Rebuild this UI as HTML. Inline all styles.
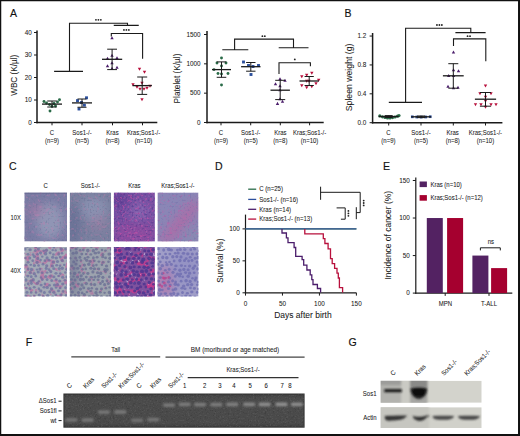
<!DOCTYPE html><html><head><meta charset="utf-8"><style>html,body{margin:0;padding:0;background:#fff;}svg{display:block;}</style></head><body>
<svg width="520" height="436" viewBox="0 0 520 436" font-family='"Liberation Sans", sans-serif'>
<rect x="0" y="0" width="520" height="436" fill="#fff"/>
<text transform="translate(10.0,17.4) scale(0.9,1)" font-size="11.7" fill="#111" stroke="#111" stroke-width="0.15">A</text>
<text transform="translate(344.6,17.2) scale(0.9,1)" font-size="11.7" fill="#111" stroke="#111" stroke-width="0.15">B</text>
<text transform="translate(8.9,170.3) scale(0.9,1)" font-size="11.7" fill="#111" stroke="#111" stroke-width="0.15">C</text>
<text transform="translate(215.0,170.4) scale(0.9,1)" font-size="11.7" fill="#111" stroke="#111" stroke-width="0.15">D</text>
<text transform="translate(383.0,170.4) scale(0.9,1)" font-size="11.7" fill="#111" stroke="#111" stroke-width="0.15">E</text>
<text transform="translate(25.8,346.4) scale(0.9,1)" font-size="11.7" fill="#111" stroke="#111" stroke-width="0.15">F</text>
<text transform="translate(348.5,346.3) scale(0.9,1)" font-size="11.7" fill="#111" stroke="#111" stroke-width="0.15">G</text>
<line x1="37" y1="30.5" x2="37" y2="123.25" stroke="#1a1a1a" stroke-width="1.5"/>
<line x1="36.25" y1="122.5" x2="157.3" y2="122.5" stroke="#1a1a1a" stroke-width="1.5"/>
<line x1="34" y1="122.5" x2="37" y2="122.5" stroke="#1a1a1a" stroke-width="1.0"/>
<text transform="translate(31.80,124.75) scale(1.0,1)" font-size="6.40" text-anchor="end" fill="#1a1a1a" stroke="#1a1a1a" stroke-width="0.06" >0</text>
<line x1="34" y1="100.0" x2="37" y2="100.0" stroke="#1a1a1a" stroke-width="1.0"/>
<text transform="translate(31.80,102.25) scale(1.0,1)" font-size="6.40" text-anchor="end" fill="#1a1a1a" stroke="#1a1a1a" stroke-width="0.06" >10</text>
<line x1="34" y1="77.5" x2="37" y2="77.5" stroke="#1a1a1a" stroke-width="1.0"/>
<text transform="translate(31.80,79.75) scale(1.0,1)" font-size="6.40" text-anchor="end" fill="#1a1a1a" stroke="#1a1a1a" stroke-width="0.06" >20</text>
<line x1="34" y1="55.0" x2="37" y2="55.0" stroke="#1a1a1a" stroke-width="1.0"/>
<text transform="translate(31.80,57.25) scale(1.0,1)" font-size="6.40" text-anchor="end" fill="#1a1a1a" stroke="#1a1a1a" stroke-width="0.06" >30</text>
<line x1="34" y1="32.5" x2="37" y2="32.5" stroke="#1a1a1a" stroke-width="1.0"/>
<text transform="translate(31.80,34.75) scale(1.0,1)" font-size="6.40" text-anchor="end" fill="#1a1a1a" stroke="#1a1a1a" stroke-width="0.06" >40</text>
<line x1="52" y1="122.5" x2="52" y2="125.3" stroke="#1a1a1a" stroke-width="1.0"/>
<line x1="82" y1="122.5" x2="82" y2="125.3" stroke="#1a1a1a" stroke-width="1.0"/>
<line x1="112.5" y1="122.5" x2="112.5" y2="125.3" stroke="#1a1a1a" stroke-width="1.0"/>
<line x1="142.5" y1="122.5" x2="142.5" y2="125.3" stroke="#1a1a1a" stroke-width="1.0"/>
<text transform="translate(52.00,134.70) scale(0.92,1)" font-size="6.52" text-anchor="middle" fill="#1a1a1a" stroke="#1a1a1a" stroke-width="0.06" >C</text>
<text transform="translate(52.00,142.80) scale(0.92,1)" font-size="6.52" text-anchor="middle" fill="#1a1a1a" stroke="#1a1a1a" stroke-width="0.06" >(n=9)</text>
<text transform="translate(82.00,134.70) scale(0.92,1)" font-size="6.52" text-anchor="middle" fill="#1a1a1a" stroke="#1a1a1a" stroke-width="0.06" >Sos1-/-</text>
<text transform="translate(82.00,142.80) scale(0.92,1)" font-size="6.52" text-anchor="middle" fill="#1a1a1a" stroke="#1a1a1a" stroke-width="0.06" >(n=5)</text>
<text transform="translate(112.50,134.70) scale(0.92,1)" font-size="6.52" text-anchor="middle" fill="#1a1a1a" stroke="#1a1a1a" stroke-width="0.06" >Kras</text>
<text transform="translate(112.50,142.80) scale(0.92,1)" font-size="6.52" text-anchor="middle" fill="#1a1a1a" stroke="#1a1a1a" stroke-width="0.06" >(n=8)</text>
<text transform="translate(143.50,134.70) scale(0.92,1)" font-size="6.52" text-anchor="middle" fill="#1a1a1a" stroke="#1a1a1a" stroke-width="0.06" >Kras;Sos1-/-</text>
<text transform="translate(143.50,142.80) scale(0.92,1)" font-size="6.52" text-anchor="middle" fill="#1a1a1a" stroke="#1a1a1a" stroke-width="0.06" >(n=10)</text>
<text transform="translate(17.31,75.30) rotate(-90) scale(0.92,1)" font-size="8.91" text-anchor="middle" fill="#1a1a1a" stroke="#1a1a1a" stroke-width="0.06">WBC (K/µl)</text>
<path d="M54.1 71.4H83M69.5 71.4V23.2H127.5V25.4M113.75 25.4H138.75" fill="none" stroke="#1a1a1a" stroke-width="1.1" />
<circle cx="95.95" cy="19.80" r="0.92" fill="#222"/>
<circle cx="98.40" cy="19.80" r="0.92" fill="#222"/>
<circle cx="100.85" cy="19.80" r="0.92" fill="#222"/>
<path d="M111.3 36.5V33.5H142.6V58.75" fill="none" stroke="#1a1a1a" stroke-width="1.1" />
<circle cx="123.95" cy="29.90" r="0.92" fill="#222"/>
<circle cx="126.40" cy="29.90" r="0.92" fill="#222"/>
<circle cx="128.85" cy="29.90" r="0.92" fill="#222"/>
<circle cx="44" cy="101.5" r="1.45" fill="#2a6b48"/>
<circle cx="46.5" cy="103" r="1.45" fill="#2a6b48"/>
<circle cx="49.5" cy="104.5" r="1.45" fill="#2a6b48"/>
<circle cx="52" cy="106.5" r="1.45" fill="#2a6b48"/>
<circle cx="55.5" cy="106" r="1.45" fill="#2a6b48"/>
<circle cx="57.5" cy="102" r="1.45" fill="#2a6b48"/>
<circle cx="59.5" cy="99.8" r="1.45" fill="#2a6b48"/>
<circle cx="50" cy="111" r="1.45" fill="#2a6b48"/>
<circle cx="54" cy="103.5" r="1.45" fill="#2a6b48"/>
<rect x="85.05" y="96.35" width="2.9" height="2.9" fill="#2c4f9c"/>
<rect x="76.05" y="99.14999999999999" width="2.9" height="2.9" fill="#2c4f9c"/>
<rect x="82.95" y="103.75" width="2.9" height="2.9" fill="#2c4f9c"/>
<rect x="77.55" y="107.55" width="2.9" height="2.9" fill="#2c4f9c"/>
<rect x="80.05" y="101.05" width="2.9" height="2.9" fill="#2c4f9c"/>
<path d="M112 36.215L113.7 39.275L110.3 39.275Z" fill="#4b1d6b"/>
<path d="M112 53.715L113.7 56.775L110.3 56.775Z" fill="#4b1d6b"/>
<path d="M107.5 56.715L109.2 59.775L105.8 59.775Z" fill="#4b1d6b"/>
<path d="M117 56.215L118.7 59.275L115.3 59.275Z" fill="#4b1d6b"/>
<path d="M112 61.215L113.7 64.275L110.3 64.275Z" fill="#4b1d6b"/>
<path d="M107.5 64.215L109.2 67.275L105.8 67.275Z" fill="#4b1d6b"/>
<path d="M112 66.715L113.7 69.775L110.3 69.775Z" fill="#4b1d6b"/>
<path d="M117 65.715L118.7 68.775L115.3 68.775Z" fill="#4b1d6b"/>
<path d="M139.5 70.785L141.2 67.725L137.8 67.725Z" fill="#b8103c"/>
<path d="M144.5 73.785L146.2 70.725L142.8 70.725Z" fill="#b8103c"/>
<path d="M142 84.785L143.7 81.725L140.3 81.725Z" fill="#b8103c"/>
<path d="M133 86.285L134.7 83.225L131.3 83.225Z" fill="#b8103c"/>
<path d="M137 88.785L138.7 85.725L135.3 85.725Z" fill="#b8103c"/>
<path d="M140 90.785L141.7 87.725L138.3 87.725Z" fill="#b8103c"/>
<path d="M144 90.785L145.7 87.725L142.3 87.725Z" fill="#b8103c"/>
<path d="M147 89.785L148.7 86.725L145.3 86.725Z" fill="#b8103c"/>
<path d="M150 87.785L151.7 84.725L148.3 84.725Z" fill="#b8103c"/>
<path d="M142 101.285L143.7 98.225L140.3 98.225Z" fill="#b8103c"/>
<line x1="42" y1="104.1" x2="62" y2="104.1" stroke="#1a1a1a" stroke-width="1.3"/>
<line x1="52" y1="101" x2="52" y2="107" stroke="#1a1a1a" stroke-width="1.0"/>
<line x1="47.25" y1="101" x2="56.75" y2="101" stroke="#1a1a1a" stroke-width="1.0"/>
<line x1="47.25" y1="107" x2="56.75" y2="107" stroke="#1a1a1a" stroke-width="1.0"/>
<line x1="72" y1="102.9" x2="92" y2="102.9" stroke="#1a1a1a" stroke-width="1.3"/>
<line x1="82" y1="99" x2="82" y2="107.25" stroke="#1a1a1a" stroke-width="1.0"/>
<line x1="77.5" y1="99" x2="86.5" y2="99" stroke="#1a1a1a" stroke-width="1.0"/>
<line x1="77.5" y1="107.25" x2="86.5" y2="107.25" stroke="#1a1a1a" stroke-width="1.0"/>
<line x1="102.0" y1="59.3" x2="122.19999999999999" y2="59.3" stroke="#1a1a1a" stroke-width="1.3"/>
<line x1="112.1" y1="49.2" x2="112.1" y2="69.6" stroke="#1a1a1a" stroke-width="1.0"/>
<line x1="107.19999999999999" y1="49.2" x2="117.0" y2="49.2" stroke="#1a1a1a" stroke-width="1.0"/>
<line x1="107.19999999999999" y1="69.6" x2="117.0" y2="69.6" stroke="#1a1a1a" stroke-width="1.0"/>
<line x1="132.5" y1="85.6" x2="151.89999999999998" y2="85.6" stroke="#1a1a1a" stroke-width="1.3"/>
<line x1="142.2" y1="77" x2="142.2" y2="94.4" stroke="#1a1a1a" stroke-width="1.0"/>
<line x1="137.2" y1="77" x2="147.2" y2="77" stroke="#1a1a1a" stroke-width="1.0"/>
<line x1="137.2" y1="94.4" x2="147.2" y2="94.4" stroke="#1a1a1a" stroke-width="1.0"/>
<line x1="207" y1="31" x2="207" y2="123.25" stroke="#1a1a1a" stroke-width="1.5"/>
<line x1="206.25" y1="122.5" x2="323.7" y2="122.5" stroke="#1a1a1a" stroke-width="1.5"/>
<line x1="204" y1="122.5" x2="207" y2="122.5" stroke="#1a1a1a" stroke-width="1.0"/>
<text transform="translate(200.60,124.75) scale(1.0,1)" font-size="6.40" text-anchor="end" fill="#1a1a1a" stroke="#1a1a1a" stroke-width="0.06" >0</text>
<line x1="204" y1="93.17" x2="207" y2="93.17" stroke="#1a1a1a" stroke-width="1.0"/>
<text transform="translate(200.60,95.42) scale(1.0,1)" font-size="6.40" text-anchor="end" fill="#1a1a1a" stroke="#1a1a1a" stroke-width="0.06" >500</text>
<line x1="204" y1="63.84" x2="207" y2="63.84" stroke="#1a1a1a" stroke-width="1.0"/>
<text transform="translate(200.60,66.09) scale(1.0,1)" font-size="6.40" text-anchor="end" fill="#1a1a1a" stroke="#1a1a1a" stroke-width="0.06" >1000</text>
<line x1="204" y1="34.510000000000005" x2="207" y2="34.510000000000005" stroke="#1a1a1a" stroke-width="1.0"/>
<text transform="translate(200.60,36.76) scale(1.0,1)" font-size="6.40" text-anchor="end" fill="#1a1a1a" stroke="#1a1a1a" stroke-width="0.06" >1500</text>
<line x1="221" y1="122.5" x2="221" y2="125.3" stroke="#1a1a1a" stroke-width="1.0"/>
<line x1="250.7" y1="122.5" x2="250.7" y2="125.3" stroke="#1a1a1a" stroke-width="1.0"/>
<line x1="280.3" y1="122.5" x2="280.3" y2="125.3" stroke="#1a1a1a" stroke-width="1.0"/>
<line x1="309.6" y1="122.5" x2="309.6" y2="125.3" stroke="#1a1a1a" stroke-width="1.0"/>
<text transform="translate(221.00,134.70) scale(0.92,1)" font-size="6.52" text-anchor="middle" fill="#1a1a1a" stroke="#1a1a1a" stroke-width="0.06" >C</text>
<text transform="translate(221.00,142.80) scale(0.92,1)" font-size="6.52" text-anchor="middle" fill="#1a1a1a" stroke="#1a1a1a" stroke-width="0.06" >(n=9)</text>
<text transform="translate(250.70,134.70) scale(0.92,1)" font-size="6.52" text-anchor="middle" fill="#1a1a1a" stroke="#1a1a1a" stroke-width="0.06" >Sos1-/-</text>
<text transform="translate(250.70,142.80) scale(0.92,1)" font-size="6.52" text-anchor="middle" fill="#1a1a1a" stroke="#1a1a1a" stroke-width="0.06" >(n=5)</text>
<text transform="translate(280.30,134.70) scale(0.92,1)" font-size="6.52" text-anchor="middle" fill="#1a1a1a" stroke="#1a1a1a" stroke-width="0.06" >Kras</text>
<text transform="translate(280.30,142.80) scale(0.92,1)" font-size="6.52" text-anchor="middle" fill="#1a1a1a" stroke="#1a1a1a" stroke-width="0.06" >(n=8)</text>
<text transform="translate(309.60,134.70) scale(0.92,1)" font-size="6.52" text-anchor="middle" fill="#1a1a1a" stroke="#1a1a1a" stroke-width="0.06" >Kras;Sos1-/-</text>
<text transform="translate(309.60,142.80) scale(0.92,1)" font-size="6.52" text-anchor="middle" fill="#1a1a1a" stroke="#1a1a1a" stroke-width="0.06" >(n=10)</text>
<text transform="translate(180.25,78.50) rotate(-90) scale(0.92,1)" font-size="9.02" text-anchor="middle" fill="#1a1a1a" stroke="#1a1a1a" stroke-width="0.06">Platelet (K/µl)</text>
<path d="M222.3 49.8H248.3M234.6 49.8V39.1H293.5V47.7M278.7 47.7H308.5" fill="none" stroke="#1a1a1a" stroke-width="1.1" />
<circle cx="262.38" cy="36.20" r="0.92" fill="#222"/>
<circle cx="264.83" cy="36.20" r="0.92" fill="#222"/>
<path d="M279 74V62.7H310.4V66.3" fill="none" stroke="#1a1a1a" stroke-width="1.1" />
<circle cx="294.80" cy="59.40" r="0.92" fill="#222"/>
<circle cx="221.5" cy="58" r="1.45" fill="#2a6b48"/>
<circle cx="217" cy="63" r="1.45" fill="#2a6b48"/>
<circle cx="226" cy="63" r="1.45" fill="#2a6b48"/>
<circle cx="221.5" cy="66" r="1.45" fill="#2a6b48"/>
<circle cx="214" cy="69.6" r="1.45" fill="#2a6b48"/>
<circle cx="218" cy="73.5" r="1.45" fill="#2a6b48"/>
<circle cx="221.5" cy="74" r="1.45" fill="#2a6b48"/>
<circle cx="228" cy="73.5" r="1.45" fill="#2a6b48"/>
<circle cx="221.5" cy="85" r="1.45" fill="#2a6b48"/>
<rect x="242.05" y="60.55" width="2.9" height="2.9" fill="#2c4f9c"/>
<rect x="247.05" y="64.05" width="2.9" height="2.9" fill="#2c4f9c"/>
<rect x="251.55" y="65.05" width="2.9" height="2.9" fill="#2c4f9c"/>
<rect x="257.05" y="64.05" width="2.9" height="2.9" fill="#2c4f9c"/>
<rect x="249.55" y="73.05" width="2.9" height="2.9" fill="#2c4f9c"/>
<path d="M280 77.215L281.7 80.275L278.3 80.275Z" fill="#4b1d6b"/>
<path d="M285 78.715L286.7 81.775L283.3 81.775Z" fill="#4b1d6b"/>
<path d="M275.5 82.215L277.2 85.275L273.8 85.275Z" fill="#4b1d6b"/>
<path d="M280 84.215L281.7 87.275L278.3 87.275Z" fill="#4b1d6b"/>
<path d="M280 88.215L281.7 91.275L278.3 91.275Z" fill="#4b1d6b"/>
<path d="M280 97.215L281.7 100.275L278.3 100.275Z" fill="#4b1d6b"/>
<path d="M277.5 101.815L279.2 104.875L275.8 104.875Z" fill="#4b1d6b"/>
<path d="M282.5 99.715L284.2 102.775L280.8 102.775Z" fill="#4b1d6b"/>
<path d="M301.8 78.285L303.5 75.225L300.1 75.225Z" fill="#b8103c"/>
<path d="M306.7 76.785L308.4 73.725L305.0 73.725Z" fill="#b8103c"/>
<path d="M311.8 74.785L313.5 71.725L310.1 71.725Z" fill="#b8103c"/>
<path d="M306.7 82.785L308.4 79.725L305.0 79.725Z" fill="#b8103c"/>
<path d="M318.7 81.785L320.4 78.725L317.0 78.725Z" fill="#b8103c"/>
<path d="M301.8 87.285L303.5 84.225L300.1 84.225Z" fill="#b8103c"/>
<path d="M306.7 89.285L308.4 86.225L305.0 86.225Z" fill="#b8103c"/>
<path d="M311.8 88.285L313.5 85.225L310.1 85.225Z" fill="#b8103c"/>
<path d="M316 85.285L317.7 82.225L314.3 82.225Z" fill="#b8103c"/>
<path d="M309 82.785L310.7 79.725L307.3 79.725Z" fill="#b8103c"/>
<line x1="212.0" y1="69.6" x2="231.0" y2="69.6" stroke="#1a1a1a" stroke-width="1.3"/>
<line x1="221.5" y1="61.9" x2="221.5" y2="77.3" stroke="#1a1a1a" stroke-width="1.0"/>
<line x1="216.7" y1="61.9" x2="226.3" y2="61.9" stroke="#1a1a1a" stroke-width="1.0"/>
<line x1="216.7" y1="77.3" x2="226.3" y2="77.3" stroke="#1a1a1a" stroke-width="1.0"/>
<line x1="241.10000000000002" y1="66.7" x2="260.5" y2="66.7" stroke="#1a1a1a" stroke-width="1.3"/>
<line x1="250.8" y1="62.5" x2="250.8" y2="71.2" stroke="#1a1a1a" stroke-width="1.0"/>
<line x1="246.10000000000002" y1="62.5" x2="255.5" y2="62.5" stroke="#1a1a1a" stroke-width="1.0"/>
<line x1="246.10000000000002" y1="71.2" x2="255.5" y2="71.2" stroke="#1a1a1a" stroke-width="1.0"/>
<line x1="270.5" y1="90.2" x2="289.9" y2="90.2" stroke="#1a1a1a" stroke-width="1.3"/>
<line x1="280.2" y1="80.3" x2="280.2" y2="99.6" stroke="#1a1a1a" stroke-width="1.0"/>
<line x1="275.2" y1="80.3" x2="285.2" y2="80.3" stroke="#1a1a1a" stroke-width="1.0"/>
<line x1="275.2" y1="99.6" x2="285.2" y2="99.6" stroke="#1a1a1a" stroke-width="1.0"/>
<line x1="299.5" y1="81" x2="318.9" y2="81" stroke="#1a1a1a" stroke-width="1.3"/>
<line x1="309.2" y1="76.5" x2="309.2" y2="85.5" stroke="#1a1a1a" stroke-width="1.0"/>
<line x1="304.59999999999997" y1="76.5" x2="313.8" y2="76.5" stroke="#1a1a1a" stroke-width="1.0"/>
<line x1="304.59999999999997" y1="85.5" x2="313.8" y2="85.5" stroke="#1a1a1a" stroke-width="1.0"/>
<line x1="372.6" y1="33" x2="372.6" y2="123.45" stroke="#1a1a1a" stroke-width="1.5"/>
<line x1="371.85" y1="122.7" x2="502.4" y2="122.7" stroke="#1a1a1a" stroke-width="1.5"/>
<line x1="369.6" y1="122.7" x2="372.6" y2="122.7" stroke="#1a1a1a" stroke-width="1.0"/>
<text transform="translate(366.30,124.95) scale(1.0,1)" font-size="6.40" text-anchor="end" fill="#1a1a1a" stroke="#1a1a1a" stroke-width="0.06" >0.0</text>
<line x1="369.6" y1="93.82" x2="372.6" y2="93.82" stroke="#1a1a1a" stroke-width="1.0"/>
<text transform="translate(366.30,96.07) scale(1.0,1)" font-size="6.40" text-anchor="end" fill="#1a1a1a" stroke="#1a1a1a" stroke-width="0.06" >0.4</text>
<line x1="369.6" y1="64.94" x2="372.6" y2="64.94" stroke="#1a1a1a" stroke-width="1.0"/>
<text transform="translate(366.30,67.19) scale(1.0,1)" font-size="6.40" text-anchor="end" fill="#1a1a1a" stroke="#1a1a1a" stroke-width="0.06" >0.8</text>
<line x1="369.6" y1="36.06" x2="372.6" y2="36.06" stroke="#1a1a1a" stroke-width="1.0"/>
<text transform="translate(366.30,38.31) scale(1.0,1)" font-size="6.40" text-anchor="end" fill="#1a1a1a" stroke="#1a1a1a" stroke-width="0.06" >1.2</text>
<line x1="388.7" y1="122.7" x2="388.7" y2="125.5" stroke="#1a1a1a" stroke-width="1.0"/>
<line x1="421" y1="122.7" x2="421" y2="125.5" stroke="#1a1a1a" stroke-width="1.0"/>
<line x1="453.3" y1="122.7" x2="453.3" y2="125.5" stroke="#1a1a1a" stroke-width="1.0"/>
<line x1="485.5" y1="122.7" x2="485.5" y2="125.5" stroke="#1a1a1a" stroke-width="1.0"/>
<text transform="translate(388.40,134.70) scale(0.92,1)" font-size="6.52" text-anchor="middle" fill="#1a1a1a" stroke="#1a1a1a" stroke-width="0.06" >C</text>
<text transform="translate(388.40,142.80) scale(0.92,1)" font-size="6.52" text-anchor="middle" fill="#1a1a1a" stroke="#1a1a1a" stroke-width="0.06" >(n=9)</text>
<text transform="translate(421.00,134.70) scale(0.92,1)" font-size="6.52" text-anchor="middle" fill="#1a1a1a" stroke="#1a1a1a" stroke-width="0.06" >Sos1-/-</text>
<text transform="translate(421.00,142.80) scale(0.92,1)" font-size="6.52" text-anchor="middle" fill="#1a1a1a" stroke="#1a1a1a" stroke-width="0.06" >(n=5)</text>
<text transform="translate(452.70,134.70) scale(0.92,1)" font-size="6.52" text-anchor="middle" fill="#1a1a1a" stroke="#1a1a1a" stroke-width="0.06" >Kras</text>
<text transform="translate(452.70,142.80) scale(0.92,1)" font-size="6.52" text-anchor="middle" fill="#1a1a1a" stroke="#1a1a1a" stroke-width="0.06" >(n=8)</text>
<text transform="translate(485.40,134.70) scale(0.92,1)" font-size="6.52" text-anchor="middle" fill="#1a1a1a" stroke="#1a1a1a" stroke-width="0.06" >Kras;Sos1-/-</text>
<text transform="translate(485.40,142.80) scale(0.92,1)" font-size="6.52" text-anchor="middle" fill="#1a1a1a" stroke="#1a1a1a" stroke-width="0.06" >(n=10)</text>
<text transform="translate(351.90,77.40) rotate(-90) scale(0.92,1)" font-size="9.46" text-anchor="middle" fill="#1a1a1a" stroke="#1a1a1a" stroke-width="0.06">Spleen weight (g)</text>
<path d="M388.8 102.35H422M405.6 102.35V28.3H470.8V32.6M455.4 32.6H485.6" fill="none" stroke="#1a1a1a" stroke-width="1.1" />
<circle cx="436.95" cy="25.00" r="0.92" fill="#222"/>
<circle cx="439.40" cy="25.00" r="0.92" fill="#222"/>
<circle cx="441.85" cy="25.00" r="0.92" fill="#222"/>
<path d="M453.5 46V38.9H485.8V61.3" fill="none" stroke="#1a1a1a" stroke-width="1.1" />
<circle cx="467.57" cy="36.20" r="0.92" fill="#222"/>
<circle cx="470.03" cy="36.20" r="0.92" fill="#222"/>
<circle cx="379.8" cy="115.9" r="1.6" fill="#2a6b48"/>
<circle cx="382.5" cy="116.8" r="1.6" fill="#2a6b48"/>
<circle cx="385" cy="117.4" r="1.6" fill="#2a6b48"/>
<circle cx="387.5" cy="117.9" r="1.6" fill="#2a6b48"/>
<circle cx="390" cy="117.9" r="1.6" fill="#2a6b48"/>
<circle cx="392.5" cy="117.6" r="1.6" fill="#2a6b48"/>
<circle cx="395" cy="117" r="1.6" fill="#2a6b48"/>
<circle cx="397.5" cy="116.2" r="1.6" fill="#2a6b48"/>
<circle cx="399" cy="115.6" r="1.6" fill="#2a6b48"/>
<rect x="410.95" y="115.45" width="2.7" height="2.7" fill="#2c4f9c"/>
<rect x="415.45" y="115.65" width="2.7" height="2.7" fill="#2c4f9c"/>
<rect x="419.84999999999997" y="115.75" width="2.7" height="2.7" fill="#2c4f9c"/>
<rect x="424.45" y="115.65" width="2.7" height="2.7" fill="#2c4f9c"/>
<rect x="428.84999999999997" y="115.35000000000001" width="2.7" height="2.7" fill="#2c4f9c"/>
<path d="M453.5 50.515L455.2 53.574999999999996L451.8 53.574999999999996Z" fill="#4b1d6b"/>
<path d="M453.5 68.215L455.2 71.275L451.8 71.275Z" fill="#4b1d6b"/>
<path d="M458.5 69.215L460.2 72.275L456.8 72.275Z" fill="#4b1d6b"/>
<path d="M448.7 73.915L450.4 76.97500000000001L447.0 76.97500000000001Z" fill="#4b1d6b"/>
<path d="M453.5 73.915L455.2 76.97500000000001L451.8 76.97500000000001Z" fill="#4b1d6b"/>
<path d="M448 84.715L449.7 87.775L446.3 87.775Z" fill="#4b1d6b"/>
<path d="M453.5 86.215L455.2 89.275L451.8 89.275Z" fill="#4b1d6b"/>
<path d="M458 85.715L459.7 88.775L456.3 88.775Z" fill="#4b1d6b"/>
<path d="M485.5 87.485L487.2 84.425L483.8 84.425Z" fill="#b8103c"/>
<path d="M480 95.285L481.7 92.225L478.3 92.225Z" fill="#b8103c"/>
<path d="M491 95.285L492.7 92.225L489.3 92.225Z" fill="#b8103c"/>
<path d="M485.5 98.785L487.2 95.725L483.8 95.725Z" fill="#b8103c"/>
<path d="M475.5 106.285L477.2 103.225L473.8 103.225Z" fill="#b8103c"/>
<path d="M481 106.285L482.7 103.225L479.3 103.225Z" fill="#b8103c"/>
<path d="M485.5 108.785L487.2 105.725L483.8 105.725Z" fill="#b8103c"/>
<path d="M491 106.285L492.7 103.225L489.3 103.225Z" fill="#b8103c"/>
<path d="M496 106.285L497.7 103.225L494.3 103.225Z" fill="#b8103c"/>
<path d="M485.5 102.785L487.2 99.725L483.8 99.725Z" fill="#b8103c"/>
<line x1="378.7" y1="116.5" x2="398.7" y2="116.5" stroke="#1a1a1a" stroke-width="1.3"/>
<line x1="388.7" y1="115.6" x2="388.7" y2="117.5" stroke="#1a1a1a" stroke-width="1.0"/>
<line x1="384.7" y1="115.6" x2="392.7" y2="115.6" stroke="#1a1a1a" stroke-width="1.0"/>
<line x1="384.7" y1="117.5" x2="392.7" y2="117.5" stroke="#1a1a1a" stroke-width="1.0"/>
<line x1="411.2" y1="116.8" x2="431.2" y2="116.8" stroke="#1a1a1a" stroke-width="1.3"/>
<line x1="421.2" y1="116" x2="421.2" y2="117.6" stroke="#1a1a1a" stroke-width="1.0"/>
<line x1="417.2" y1="116" x2="425.2" y2="116" stroke="#1a1a1a" stroke-width="1.0"/>
<line x1="417.2" y1="117.6" x2="425.2" y2="117.6" stroke="#1a1a1a" stroke-width="1.0"/>
<line x1="442.90000000000003" y1="75.8" x2="463.7" y2="75.8" stroke="#1a1a1a" stroke-width="1.3"/>
<line x1="453.3" y1="63.7" x2="453.3" y2="88.2" stroke="#1a1a1a" stroke-width="1.0"/>
<line x1="448.3" y1="63.7" x2="458.3" y2="63.7" stroke="#1a1a1a" stroke-width="1.0"/>
<line x1="448.3" y1="88.2" x2="458.3" y2="88.2" stroke="#1a1a1a" stroke-width="1.0"/>
<line x1="474.9" y1="99.2" x2="496.1" y2="99.2" stroke="#1a1a1a" stroke-width="1.3"/>
<line x1="485.5" y1="92.5" x2="485.5" y2="106.2" stroke="#1a1a1a" stroke-width="1.0"/>
<line x1="479.9" y1="92.5" x2="491.1" y2="92.5" stroke="#1a1a1a" stroke-width="1.0"/>
<line x1="479.9" y1="106.2" x2="491.1" y2="106.2" stroke="#1a1a1a" stroke-width="1.0"/>
<text transform="translate(45.65,187.50) scale(0.92,1)" font-size="6.52" text-anchor="middle" fill="#1a1a1a" stroke="#1a1a1a" stroke-width="0.06" >C</text>
<text transform="translate(90.40,187.50) scale(0.92,1)" font-size="6.52" text-anchor="middle" fill="#1a1a1a" stroke="#1a1a1a" stroke-width="0.06" >Sos1-/-</text>
<text transform="translate(134.35,187.50) scale(0.92,1)" font-size="6.52" text-anchor="middle" fill="#1a1a1a" stroke="#1a1a1a" stroke-width="0.06" >Kras</text>
<text transform="translate(177.95,187.50) scale(0.92,1)" font-size="6.52" text-anchor="middle" fill="#1a1a1a" stroke="#1a1a1a" stroke-width="0.06" >Kras;Sos1-/-</text>
<text transform="translate(15.70,219.60) scale(0.92,1)" font-size="6.30" text-anchor="middle" fill="#1a1a1a" stroke="#1a1a1a" stroke-width="0.06" >10X</text>
<text transform="translate(15.70,273.10) scale(0.92,1)" font-size="6.30" text-anchor="middle" fill="#1a1a1a" stroke="#1a1a1a" stroke-width="0.06" >40X</text>
<defs><filter id="hb" x="-100%" y="-100%" width="300%" height="300%"><feGaussianBlur stdDeviation="4"/></filter><filter id="nb" x="-50%" y="-50%" width="200%" height="200%"><feGaussianBlur stdDeviation="0.45"/></filter></defs>
<clipPath id="h00"><rect x="24.3" y="192.4" width="42.7" height="49.2"/></clipPath>
<g clip-path="url(#h00)">
<rect x="24.3" y="192.4" width="42.7" height="49.2" fill="#7a7ca4"/>
<ellipse cx="49.650000000000006" cy="221.0" rx="14" ry="18" fill="#9aa0bc" opacity="0.7" transform="rotate(0 49.650000000000006 221.0)" filter="url(#hb)"/>
<ellipse cx="36.3" cy="210.4" rx="8" ry="6" fill="#b07aa8" opacity="0.6" transform="rotate(0 36.3 210.4)" filter="url(#hb)"/>
<filter id="sp1" filterUnits="userSpaceOnUse" x="24.3" y="192.4" width="42.7" height="49.2"><feTurbulence type="fractalNoise" baseFrequency="0.35" numOctaves="2" seed="3" result="t"/><feColorMatrix in="t" type="matrix" values="0 0 0 0 0 0 0 0 0 0 0 0 0 0 0 5 0 0 0 -2.800" result="a"/><feFlood flood-color="#c27cb0" flood-opacity="0.4"/><feComposite in2="a" operator="in"/></filter>
<rect x="24.3" y="192.4" width="42.7" height="49.2" filter="url(#sp1)"/>
<filter id="sp2" filterUnits="userSpaceOnUse" x="24.3" y="192.4" width="42.7" height="49.2"><feTurbulence type="fractalNoise" baseFrequency="0.5" numOctaves="2" seed="9" result="t"/><feColorMatrix in="t" type="matrix" values="0 0 0 0 0 0 0 0 0 0 0 0 0 0 0 5 0 0 0 -2.800" result="a"/><feFlood flood-color="#5e6690" flood-opacity="0.35"/><feComposite in2="a" operator="in"/></filter>
<rect x="24.3" y="192.4" width="42.7" height="49.2" filter="url(#sp2)"/>
<rect x="24.3" y="192.4" width="42.7" height="1.2" fill="#5a5e88" opacity="0.7"/>
</g>
<clipPath id="h01"><rect x="69.7" y="192.4" width="41.4" height="49.2"/></clipPath>
<g clip-path="url(#h01)">
<rect x="69.7" y="192.4" width="41.4" height="49.2" fill="#7a80a0"/>
<ellipse cx="93.4" cy="209.0" rx="14" ry="12" fill="#9098b8" opacity="0.7" transform="rotate(0 93.4 209.0)" filter="url(#hb)"/>
<ellipse cx="73.7" cy="225.0" rx="6" ry="22" fill="#626a92" opacity="0.7" transform="rotate(0 73.7 225.0)" filter="url(#hb)"/>
<ellipse cx="98.4" cy="223.0" rx="8" ry="8" fill="#a882a8" opacity="0.45" transform="rotate(0 98.4 223.0)" filter="url(#hb)"/>
<filter id="sp3" filterUnits="userSpaceOnUse" x="69.7" y="192.4" width="41.4" height="49.2"><feTurbulence type="fractalNoise" baseFrequency="0.35" numOctaves="2" seed="5" result="t"/><feColorMatrix in="t" type="matrix" values="0 0 0 0 0 0 0 0 0 0 0 0 0 0 0 5 0 0 0 -2.800" result="a"/><feFlood flood-color="#b87aa8" flood-opacity="0.4"/><feComposite in2="a" operator="in"/></filter>
<rect x="69.7" y="192.4" width="41.4" height="49.2" filter="url(#sp3)"/>
<filter id="sp4" filterUnits="userSpaceOnUse" x="69.7" y="192.4" width="41.4" height="49.2"><feTurbulence type="fractalNoise" baseFrequency="0.5" numOctaves="2" seed="11" result="t"/><feColorMatrix in="t" type="matrix" values="0 0 0 0 0 0 0 0 0 0 0 0 0 0 0 5 0 0 0 -2.800" result="a"/><feFlood flood-color="#5a6488" flood-opacity="0.35"/><feComposite in2="a" operator="in"/></filter>
<rect x="69.7" y="192.4" width="41.4" height="49.2" filter="url(#sp4)"/>
</g>
<clipPath id="h02"><rect x="113.8" y="192.4" width="41.1" height="49.2"/></clipPath>
<g clip-path="url(#h02)">
<rect x="113.8" y="192.4" width="41.1" height="49.2" fill="#7650a2"/>
<ellipse cx="134.35" cy="233.6" rx="22" ry="10" fill="#9a4a9e" opacity="0.6" transform="rotate(0 134.35 233.6)" filter="url(#hb)"/>
<ellipse cx="138.35" cy="211.0" rx="10" ry="10" fill="#8a6ab4" opacity="0.6" transform="rotate(0 138.35 211.0)" filter="url(#hb)"/>
<ellipse cx="119.8" cy="200.4" rx="8" ry="8" fill="#5a3a92" opacity="0.7" transform="rotate(0 119.8 200.4)" filter="url(#hb)"/>
<filter id="sp5" filterUnits="userSpaceOnUse" x="113.8" y="192.4" width="41.1" height="49.2"><feTurbulence type="fractalNoise" baseFrequency="0.4" numOctaves="2" seed="7" result="t"/><feColorMatrix in="t" type="matrix" values="0 0 0 0 0 0 0 0 0 0 0 0 0 0 0 5 0 0 0 -2.750" result="a"/><feFlood flood-color="#d050a8" flood-opacity="0.55"/><feComposite in2="a" operator="in"/></filter>
<rect x="113.8" y="192.4" width="41.1" height="49.2" filter="url(#sp5)"/>
<filter id="sp6" filterUnits="userSpaceOnUse" x="113.8" y="192.4" width="41.1" height="49.2"><feTurbulence type="fractalNoise" baseFrequency="0.5" numOctaves="2" seed="13" result="t"/><feColorMatrix in="t" type="matrix" values="0 0 0 0 0 0 0 0 0 0 0 0 0 0 0 5 0 0 0 -2.800" result="a"/><feFlood flood-color="#4a3088" flood-opacity="0.5"/><feComposite in2="a" operator="in"/></filter>
<rect x="113.8" y="192.4" width="41.1" height="49.2" filter="url(#sp6)"/>
<filter id="sp7" filterUnits="userSpaceOnUse" x="113.8" y="192.4" width="41.1" height="49.2"><feTurbulence type="fractalNoise" baseFrequency="0.5" numOctaves="2" seed="17" result="t"/><feColorMatrix in="t" type="matrix" values="0 0 0 0 0 0 0 0 0 0 0 0 0 0 0 6 0 0 0 -3.600" result="a"/><feFlood flood-color="#a89ad0" flood-opacity="0.2"/><feComposite in2="a" operator="in"/></filter>
<rect x="113.8" y="192.4" width="41.1" height="49.2" filter="url(#sp7)"/>
</g>
<clipPath id="h03"><rect x="157.4" y="192.4" width="41.1" height="49.2"/></clipPath>
<g clip-path="url(#h03)">
<rect x="157.4" y="192.4" width="41.1" height="49.2" fill="#8a86b6"/>
<ellipse cx="179.95" cy="223.0" rx="30" ry="7" fill="#b06aa6" opacity="0.75" transform="rotate(-50 179.95 223.0)" filter="url(#hb)"/>
<ellipse cx="192.5" cy="235.6" rx="10" ry="8" fill="#8a8cb0" opacity="0.6" transform="rotate(0 192.5 235.6)" filter="url(#hb)"/>
<filter id="sp8" filterUnits="userSpaceOnUse" x="157.4" y="192.4" width="41.1" height="49.2"><feTurbulence type="fractalNoise" baseFrequency="0.4" numOctaves="2" seed="19" result="t"/><feColorMatrix in="t" type="matrix" values="0 0 0 0 0 0 0 0 0 0 0 0 0 0 0 5 0 0 0 -2.800" result="a"/><feFlood flood-color="#c85aa8" flood-opacity="0.4"/><feComposite in2="a" operator="in"/></filter>
<rect x="157.4" y="192.4" width="41.1" height="49.2" filter="url(#sp8)"/>
<filter id="sp9" filterUnits="userSpaceOnUse" x="157.4" y="192.4" width="41.1" height="49.2"><feTurbulence type="fractalNoise" baseFrequency="0.5" numOctaves="2" seed="23" result="t"/><feColorMatrix in="t" type="matrix" values="0 0 0 0 0 0 0 0 0 0 0 0 0 0 0 5 0 0 0 -2.800" result="a"/><feFlood flood-color="#6a66a4" flood-opacity="0.35"/><feComposite in2="a" operator="in"/></filter>
<rect x="157.4" y="192.4" width="41.1" height="49.2" filter="url(#sp9)"/>
</g>
<clipPath id="h10"><rect x="24.3" y="246.9" width="42.7" height="49.7"/></clipPath>
<g clip-path="url(#h10)">
<rect x="24.3" y="246.9" width="42.7" height="49.7" fill="#a4abb6"/>
<filter id="sp10" filterUnits="userSpaceOnUse" x="24.3" y="246.9" width="42.7" height="49.7"><feTurbulence type="fractalNoise" baseFrequency="0.2" numOctaves="2" seed="29" result="t"/><feColorMatrix in="t" type="matrix" values="0 0 0 0 0 0 0 0 0 0 0 0 0 0 0 7 0 0 0 -3.500" result="a"/><feFlood flood-color="#c0609c" flood-opacity="0.6"/><feComposite in2="a" operator="in"/></filter>
<rect x="24.3" y="246.9" width="42.7" height="49.7" filter="url(#sp10)"/>
<g filter="url(#nb)">
<ellipse cx="22.2" cy="245.0" rx="1.3" ry="1.4" fill="#6a6c9c" opacity="0.7"/>
<ellipse cx="27.5" cy="246.3" rx="1.6" ry="1.4" fill="#6a6c9c" opacity="0.7"/>
<ellipse cx="31.3" cy="245.0" rx="1.3" ry="1.1" fill="#6a6c9c" opacity="0.7"/>
<ellipse cx="35.9" cy="246.5" rx="1.7" ry="1.7" fill="#6a6c9c" opacity="0.7"/>
<ellipse cx="40.1" cy="246.4" rx="1.4" ry="1.2" fill="#6a6c9c" opacity="0.7"/>
<ellipse cx="45.7" cy="245.1" rx="1.3" ry="1.2" fill="#6a6c9c" opacity="0.7"/>
<ellipse cx="49.8" cy="245.8" rx="1.4" ry="1.1" fill="#6a6c9c" opacity="0.7"/>
<ellipse cx="53.9" cy="247.0" rx="1.4" ry="1.5" fill="#6a6c9c" opacity="0.7"/>
<ellipse cx="57.6" cy="244.8" rx="1.3" ry="1.2" fill="#6a6c9c" opacity="0.7"/>
<ellipse cx="63.9" cy="245.7" rx="1.5" ry="1.3" fill="#6a6c9c" opacity="0.7"/>
<ellipse cx="66.6" cy="245.5" rx="1.3" ry="1.0" fill="#6a6c9c" opacity="0.7"/>
<ellipse cx="71.4" cy="246.9" rx="1.3" ry="1.4" fill="#6a6c9c" opacity="0.7"/>
<ellipse cx="24.9" cy="249.1" rx="1.7" ry="1.7" fill="#6a6c9c" opacity="0.7"/>
<ellipse cx="30.1" cy="249.8" rx="1.7" ry="1.5" fill="#6a6c9c" opacity="0.7"/>
<ellipse cx="35.3" cy="250.5" rx="1.4" ry="1.5" fill="#6a6c9c" opacity="0.7"/>
<ellipse cx="38.4" cy="249.1" rx="1.6" ry="1.7" fill="#6a6c9c" opacity="0.7"/>
<ellipse cx="43.8" cy="250.8" rx="1.4" ry="1.3" fill="#6a6c9c" opacity="0.7"/>
<ellipse cx="46.5" cy="250.2" rx="1.6" ry="1.7" fill="#6a6c9c" opacity="0.7"/>
<ellipse cx="52.7" cy="250.1" rx="1.3" ry="1.2" fill="#6a6c9c" opacity="0.7"/>
<ellipse cx="55.7" cy="250.4" rx="1.3" ry="1.2" fill="#6a6c9c" opacity="0.7"/>
<ellipse cx="61.2" cy="249.1" rx="1.7" ry="1.7" fill="#6a6c9c" opacity="0.7"/>
<ellipse cx="65.4" cy="249.1" rx="1.3" ry="1.3" fill="#6a6c9c" opacity="0.7"/>
<ellipse cx="68.5" cy="249.4" rx="1.6" ry="1.3" fill="#6a6c9c" opacity="0.7"/>
<ellipse cx="22.9" cy="253.3" rx="1.7" ry="1.7" fill="#6a6c9c" opacity="0.7"/>
<ellipse cx="28.0" cy="254.3" rx="1.5" ry="1.4" fill="#6a6c9c" opacity="0.7"/>
<ellipse cx="33.1" cy="254.6" rx="1.3" ry="1.3" fill="#6a6c9c" opacity="0.7"/>
<ellipse cx="37.6" cy="254.2" rx="1.4" ry="1.2" fill="#6a6c9c" opacity="0.7"/>
<ellipse cx="40.5" cy="252.8" rx="1.6" ry="1.6" fill="#6a6c9c" opacity="0.7"/>
<ellipse cx="45.6" cy="253.7" rx="1.7" ry="1.9" fill="#6a6c9c" opacity="0.7"/>
<ellipse cx="50.1" cy="252.7" rx="1.5" ry="1.5" fill="#6a6c9c" opacity="0.7"/>
<ellipse cx="53.4" cy="254.5" rx="1.4" ry="1.3" fill="#6a6c9c" opacity="0.7"/>
<ellipse cx="58.7" cy="254.0" rx="1.5" ry="1.7" fill="#6a6c9c" opacity="0.7"/>
<ellipse cx="62.0" cy="253.3" rx="1.3" ry="1.2" fill="#6a6c9c" opacity="0.7"/>
<ellipse cx="68.2" cy="253.9" rx="1.4" ry="1.5" fill="#6a6c9c" opacity="0.7"/>
<ellipse cx="72.8" cy="252.9" rx="1.7" ry="1.6" fill="#6a6c9c" opacity="0.7"/>
<ellipse cx="25.4" cy="258.0" rx="1.3" ry="1.3" fill="#6a6c9c" opacity="0.7"/>
<ellipse cx="29.8" cy="258.0" rx="1.5" ry="1.6" fill="#6a6c9c" opacity="0.7"/>
<ellipse cx="34.4" cy="256.5" rx="1.6" ry="1.5" fill="#6a6c9c" opacity="0.7"/>
<ellipse cx="37.8" cy="258.4" rx="1.5" ry="1.6" fill="#6a6c9c" opacity="0.7"/>
<ellipse cx="42.3" cy="256.7" rx="1.3" ry="1.1" fill="#6a6c9c" opacity="0.7"/>
<ellipse cx="47.1" cy="257.9" rx="1.6" ry="1.7" fill="#6a6c9c" opacity="0.7"/>
<ellipse cx="52.7" cy="257.3" rx="1.7" ry="1.5" fill="#6a6c9c" opacity="0.7"/>
<ellipse cx="56.3" cy="258.0" rx="1.7" ry="1.5" fill="#6a6c9c" opacity="0.7"/>
<ellipse cx="60.2" cy="257.1" rx="1.5" ry="1.3" fill="#6a6c9c" opacity="0.7"/>
<ellipse cx="65.3" cy="257.7" rx="1.6" ry="1.4" fill="#6a6c9c" opacity="0.7"/>
<ellipse cx="68.5" cy="256.5" rx="1.6" ry="1.7" fill="#6a6c9c" opacity="0.7"/>
<ellipse cx="22.5" cy="261.7" rx="1.3" ry="1.3" fill="#6a6c9c" opacity="0.7"/>
<ellipse cx="28.1" cy="262.3" rx="1.6" ry="1.4" fill="#6a6c9c" opacity="0.7"/>
<ellipse cx="32.7" cy="260.7" rx="1.3" ry="1.4" fill="#6a6c9c" opacity="0.7"/>
<ellipse cx="37.1" cy="262.3" rx="1.6" ry="1.6" fill="#6a6c9c" opacity="0.7"/>
<ellipse cx="40.6" cy="260.1" rx="1.3" ry="1.4" fill="#6a6c9c" opacity="0.7"/>
<ellipse cx="45.0" cy="260.7" rx="1.4" ry="1.4" fill="#6a6c9c" opacity="0.7"/>
<ellipse cx="49.0" cy="260.2" rx="1.5" ry="1.4" fill="#6a6c9c" opacity="0.7"/>
<ellipse cx="53.3" cy="262.0" rx="1.7" ry="1.6" fill="#6a6c9c" opacity="0.7"/>
<ellipse cx="57.5" cy="261.5" rx="1.6" ry="1.6" fill="#6a6c9c" opacity="0.7"/>
<ellipse cx="62.3" cy="260.5" rx="1.7" ry="1.5" fill="#6a6c9c" opacity="0.7"/>
<ellipse cx="68.0" cy="260.8" rx="1.4" ry="1.5" fill="#6a6c9c" opacity="0.7"/>
<ellipse cx="71.0" cy="261.1" rx="1.6" ry="1.4" fill="#6a6c9c" opacity="0.7"/>
<ellipse cx="25.9" cy="265.1" rx="1.7" ry="1.4" fill="#6a6c9c" opacity="0.7"/>
<ellipse cx="30.7" cy="264.8" rx="1.4" ry="1.1" fill="#6a6c9c" opacity="0.7"/>
<ellipse cx="34.4" cy="265.5" rx="1.6" ry="1.5" fill="#6a6c9c" opacity="0.7"/>
<ellipse cx="38.6" cy="265.5" rx="1.4" ry="1.3" fill="#6a6c9c" opacity="0.7"/>
<ellipse cx="43.0" cy="264.2" rx="1.4" ry="1.4" fill="#6a6c9c" opacity="0.7"/>
<ellipse cx="46.7" cy="265.7" rx="1.6" ry="1.5" fill="#6a6c9c" opacity="0.7"/>
<ellipse cx="52.4" cy="266.0" rx="1.7" ry="1.4" fill="#6a6c9c" opacity="0.7"/>
<ellipse cx="56.7" cy="265.2" rx="1.5" ry="1.3" fill="#6a6c9c" opacity="0.7"/>
<ellipse cx="60.0" cy="265.8" rx="1.3" ry="1.3" fill="#6a6c9c" opacity="0.7"/>
<ellipse cx="64.3" cy="264.9" rx="1.3" ry="1.1" fill="#6a6c9c" opacity="0.7"/>
<ellipse cx="68.7" cy="264.8" rx="1.3" ry="1.2" fill="#6a6c9c" opacity="0.7"/>
<ellipse cx="22.9" cy="268.7" rx="1.7" ry="1.5" fill="#6a6c9c" opacity="0.7"/>
<ellipse cx="28.2" cy="269.0" rx="1.3" ry="1.4" fill="#6a6c9c" opacity="0.7"/>
<ellipse cx="31.5" cy="269.5" rx="1.7" ry="1.8" fill="#6a6c9c" opacity="0.7"/>
<ellipse cx="37.0" cy="269.6" rx="1.3" ry="1.1" fill="#6a6c9c" opacity="0.7"/>
<ellipse cx="39.9" cy="269.1" rx="1.5" ry="1.6" fill="#6a6c9c" opacity="0.7"/>
<ellipse cx="46.2" cy="268.3" rx="1.5" ry="1.6" fill="#6a6c9c" opacity="0.7"/>
<ellipse cx="49.0" cy="269.6" rx="1.4" ry="1.3" fill="#6a6c9c" opacity="0.7"/>
<ellipse cx="53.8" cy="268.7" rx="1.6" ry="1.4" fill="#6a6c9c" opacity="0.7"/>
<ellipse cx="59.2" cy="268.6" rx="1.5" ry="1.6" fill="#6a6c9c" opacity="0.7"/>
<ellipse cx="62.2" cy="268.2" rx="1.7" ry="1.7" fill="#6a6c9c" opacity="0.7"/>
<ellipse cx="67.0" cy="269.3" rx="1.7" ry="1.8" fill="#6a6c9c" opacity="0.7"/>
<ellipse cx="71.4" cy="269.5" rx="1.6" ry="1.4" fill="#6a6c9c" opacity="0.7"/>
<ellipse cx="24.5" cy="272.1" rx="1.4" ry="1.1" fill="#6a6c9c" opacity="0.7"/>
<ellipse cx="30.2" cy="272.7" rx="1.7" ry="1.7" fill="#6a6c9c" opacity="0.7"/>
<ellipse cx="34.3" cy="273.7" rx="1.6" ry="1.6" fill="#6a6c9c" opacity="0.7"/>
<ellipse cx="38.2" cy="272.0" rx="1.6" ry="1.5" fill="#6a6c9c" opacity="0.7"/>
<ellipse cx="42.1" cy="272.7" rx="1.5" ry="1.3" fill="#6a6c9c" opacity="0.7"/>
<ellipse cx="47.1" cy="272.6" rx="1.4" ry="1.2" fill="#6a6c9c" opacity="0.7"/>
<ellipse cx="50.8" cy="271.6" rx="1.6" ry="1.6" fill="#6a6c9c" opacity="0.7"/>
<ellipse cx="56.0" cy="273.3" rx="1.6" ry="1.4" fill="#6a6c9c" opacity="0.7"/>
<ellipse cx="60.3" cy="273.6" rx="1.4" ry="1.3" fill="#6a6c9c" opacity="0.7"/>
<ellipse cx="65.3" cy="272.5" rx="1.3" ry="1.2" fill="#6a6c9c" opacity="0.7"/>
<ellipse cx="70.1" cy="272.1" rx="1.7" ry="1.8" fill="#6a6c9c" opacity="0.7"/>
<ellipse cx="23.5" cy="277.3" rx="1.4" ry="1.3" fill="#6a6c9c" opacity="0.7"/>
<ellipse cx="27.8" cy="276.1" rx="1.6" ry="1.4" fill="#6a6c9c" opacity="0.7"/>
<ellipse cx="31.2" cy="276.7" rx="1.4" ry="1.4" fill="#6a6c9c" opacity="0.7"/>
<ellipse cx="35.8" cy="276.2" rx="1.3" ry="1.4" fill="#6a6c9c" opacity="0.7"/>
<ellipse cx="41.0" cy="277.5" rx="1.3" ry="1.3" fill="#6a6c9c" opacity="0.7"/>
<ellipse cx="45.7" cy="276.6" rx="1.6" ry="1.5" fill="#6a6c9c" opacity="0.7"/>
<ellipse cx="50.5" cy="276.1" rx="1.4" ry="1.5" fill="#6a6c9c" opacity="0.7"/>
<ellipse cx="53.9" cy="276.9" rx="1.6" ry="1.4" fill="#6a6c9c" opacity="0.7"/>
<ellipse cx="58.6" cy="275.9" rx="1.4" ry="1.2" fill="#6a6c9c" opacity="0.7"/>
<ellipse cx="62.7" cy="277.2" rx="1.6" ry="1.5" fill="#6a6c9c" opacity="0.7"/>
<ellipse cx="66.7" cy="277.0" rx="1.4" ry="1.4" fill="#6a6c9c" opacity="0.7"/>
<ellipse cx="70.7" cy="277.5" rx="1.4" ry="1.2" fill="#6a6c9c" opacity="0.7"/>
<ellipse cx="25.9" cy="280.0" rx="1.6" ry="1.8" fill="#6a6c9c" opacity="0.7"/>
<ellipse cx="31.0" cy="281.0" rx="1.7" ry="1.6" fill="#6a6c9c" opacity="0.7"/>
<ellipse cx="33.3" cy="279.8" rx="1.6" ry="1.7" fill="#6a6c9c" opacity="0.7"/>
<ellipse cx="38.7" cy="281.4" rx="1.3" ry="1.1" fill="#6a6c9c" opacity="0.7"/>
<ellipse cx="42.3" cy="279.4" rx="1.4" ry="1.5" fill="#6a6c9c" opacity="0.7"/>
<ellipse cx="47.1" cy="279.4" rx="1.4" ry="1.5" fill="#6a6c9c" opacity="0.7"/>
<ellipse cx="51.7" cy="280.4" rx="1.4" ry="1.5" fill="#6a6c9c" opacity="0.7"/>
<ellipse cx="56.2" cy="279.6" rx="1.5" ry="1.4" fill="#6a6c9c" opacity="0.7"/>
<ellipse cx="59.7" cy="281.0" rx="1.6" ry="1.6" fill="#6a6c9c" opacity="0.7"/>
<ellipse cx="65.0" cy="280.3" rx="1.5" ry="1.3" fill="#6a6c9c" opacity="0.7"/>
<ellipse cx="69.5" cy="280.8" rx="1.5" ry="1.4" fill="#6a6c9c" opacity="0.7"/>
<ellipse cx="24.2" cy="284.9" rx="1.3" ry="1.3" fill="#6a6c9c" opacity="0.7"/>
<ellipse cx="28.2" cy="283.8" rx="1.4" ry="1.5" fill="#6a6c9c" opacity="0.7"/>
<ellipse cx="31.4" cy="283.3" rx="1.4" ry="1.6" fill="#6a6c9c" opacity="0.7"/>
<ellipse cx="37.3" cy="283.2" rx="1.6" ry="1.5" fill="#6a6c9c" opacity="0.7"/>
<ellipse cx="41.1" cy="285.1" rx="1.6" ry="1.3" fill="#6a6c9c" opacity="0.7"/>
<ellipse cx="44.9" cy="283.9" rx="1.3" ry="1.3" fill="#6a6c9c" opacity="0.7"/>
<ellipse cx="49.5" cy="285.2" rx="1.4" ry="1.3" fill="#6a6c9c" opacity="0.7"/>
<ellipse cx="54.5" cy="284.9" rx="1.6" ry="1.5" fill="#6a6c9c" opacity="0.7"/>
<ellipse cx="57.5" cy="284.7" rx="1.6" ry="1.6" fill="#6a6c9c" opacity="0.7"/>
<ellipse cx="62.8" cy="284.0" rx="1.7" ry="1.4" fill="#6a6c9c" opacity="0.7"/>
<ellipse cx="68.0" cy="284.7" rx="1.7" ry="1.7" fill="#6a6c9c" opacity="0.7"/>
<ellipse cx="72.6" cy="284.7" rx="1.4" ry="1.1" fill="#6a6c9c" opacity="0.7"/>
<ellipse cx="26.4" cy="287.8" rx="1.3" ry="1.1" fill="#6a6c9c" opacity="0.7"/>
<ellipse cx="30.0" cy="288.6" rx="1.5" ry="1.7" fill="#6a6c9c" opacity="0.7"/>
<ellipse cx="34.2" cy="287.2" rx="1.5" ry="1.3" fill="#6a6c9c" opacity="0.7"/>
<ellipse cx="38.9" cy="288.8" rx="1.3" ry="1.5" fill="#6a6c9c" opacity="0.7"/>
<ellipse cx="43.9" cy="287.2" rx="1.5" ry="1.3" fill="#6a6c9c" opacity="0.7"/>
<ellipse cx="47.2" cy="287.4" rx="1.7" ry="1.6" fill="#6a6c9c" opacity="0.7"/>
<ellipse cx="51.6" cy="289.0" rx="1.7" ry="1.7" fill="#6a6c9c" opacity="0.7"/>
<ellipse cx="56.1" cy="287.6" rx="1.4" ry="1.2" fill="#6a6c9c" opacity="0.7"/>
<ellipse cx="60.2" cy="287.9" rx="1.3" ry="1.3" fill="#6a6c9c" opacity="0.7"/>
<ellipse cx="65.5" cy="287.7" rx="1.4" ry="1.4" fill="#6a6c9c" opacity="0.7"/>
<ellipse cx="68.8" cy="287.4" rx="1.7" ry="1.5" fill="#6a6c9c" opacity="0.7"/>
<ellipse cx="22.8" cy="292.7" rx="1.5" ry="1.5" fill="#6a6c9c" opacity="0.7"/>
<ellipse cx="27.0" cy="292.4" rx="1.6" ry="1.4" fill="#6a6c9c" opacity="0.7"/>
<ellipse cx="31.2" cy="292.5" rx="1.3" ry="1.2" fill="#6a6c9c" opacity="0.7"/>
<ellipse cx="36.0" cy="292.5" rx="1.3" ry="1.2" fill="#6a6c9c" opacity="0.7"/>
<ellipse cx="40.8" cy="290.9" rx="1.6" ry="1.6" fill="#6a6c9c" opacity="0.7"/>
<ellipse cx="44.4" cy="292.5" rx="1.5" ry="1.5" fill="#6a6c9c" opacity="0.7"/>
<ellipse cx="49.8" cy="291.8" rx="1.5" ry="1.6" fill="#6a6c9c" opacity="0.7"/>
<ellipse cx="53.8" cy="292.3" rx="1.5" ry="1.5" fill="#6a6c9c" opacity="0.7"/>
<ellipse cx="58.5" cy="290.9" rx="1.5" ry="1.3" fill="#6a6c9c" opacity="0.7"/>
<ellipse cx="63.1" cy="291.4" rx="1.3" ry="1.3" fill="#6a6c9c" opacity="0.7"/>
<ellipse cx="68.1" cy="291.9" rx="1.6" ry="1.5" fill="#6a6c9c" opacity="0.7"/>
<ellipse cx="72.3" cy="291.0" rx="1.7" ry="1.5" fill="#6a6c9c" opacity="0.7"/>
<ellipse cx="26.0" cy="295.9" rx="1.6" ry="1.5" fill="#6a6c9c" opacity="0.7"/>
<ellipse cx="30.7" cy="296.5" rx="1.3" ry="1.1" fill="#6a6c9c" opacity="0.7"/>
<ellipse cx="34.4" cy="295.9" rx="1.3" ry="1.1" fill="#6a6c9c" opacity="0.7"/>
<ellipse cx="39.3" cy="295.1" rx="1.6" ry="1.5" fill="#6a6c9c" opacity="0.7"/>
<ellipse cx="43.2" cy="296.3" rx="1.3" ry="1.2" fill="#6a6c9c" opacity="0.7"/>
<ellipse cx="47.7" cy="295.8" rx="1.7" ry="1.8" fill="#6a6c9c" opacity="0.7"/>
<ellipse cx="52.7" cy="296.7" rx="1.4" ry="1.3" fill="#6a6c9c" opacity="0.7"/>
<ellipse cx="55.8" cy="294.7" rx="1.4" ry="1.2" fill="#6a6c9c" opacity="0.7"/>
<ellipse cx="60.9" cy="294.9" rx="1.6" ry="1.3" fill="#6a6c9c" opacity="0.7"/>
<ellipse cx="66.1" cy="295.6" rx="1.5" ry="1.6" fill="#6a6c9c" opacity="0.7"/>
<ellipse cx="69.6" cy="296.4" rx="1.6" ry="1.6" fill="#6a6c9c" opacity="0.7"/>
<ellipse cx="24.1" cy="298.7" rx="1.7" ry="1.8" fill="#6a6c9c" opacity="0.7"/>
<ellipse cx="27.6" cy="298.8" rx="1.4" ry="1.5" fill="#6a6c9c" opacity="0.7"/>
<ellipse cx="32.0" cy="298.7" rx="1.7" ry="1.6" fill="#6a6c9c" opacity="0.7"/>
<ellipse cx="37.3" cy="299.2" rx="1.3" ry="1.3" fill="#6a6c9c" opacity="0.7"/>
<ellipse cx="40.7" cy="300.4" rx="1.5" ry="1.6" fill="#6a6c9c" opacity="0.7"/>
<ellipse cx="46.0" cy="299.1" rx="1.4" ry="1.4" fill="#6a6c9c" opacity="0.7"/>
<ellipse cx="49.7" cy="299.9" rx="1.6" ry="1.6" fill="#6a6c9c" opacity="0.7"/>
<ellipse cx="53.4" cy="298.7" rx="1.4" ry="1.5" fill="#6a6c9c" opacity="0.7"/>
<ellipse cx="59.3" cy="298.7" rx="1.4" ry="1.5" fill="#6a6c9c" opacity="0.7"/>
<ellipse cx="63.4" cy="300.0" rx="1.7" ry="1.6" fill="#6a6c9c" opacity="0.7"/>
<ellipse cx="67.5" cy="299.2" rx="1.3" ry="1.1" fill="#6a6c9c" opacity="0.7"/>
<ellipse cx="72.5" cy="300.1" rx="1.3" ry="1.1" fill="#6a6c9c" opacity="0.7"/>
</g>
</g>
<clipPath id="h11"><rect x="69.7" y="246.9" width="41.4" height="49.7"/></clipPath>
<g clip-path="url(#h11)">
<rect x="69.7" y="246.9" width="41.4" height="49.7" fill="#9ca3ae"/>
<ellipse cx="72.7" cy="271.75" rx="5" ry="28" fill="#6a7090" opacity="0.7" transform="rotate(0 72.7 271.75)" filter="url(#hb)"/>
<filter id="sp11" filterUnits="userSpaceOnUse" x="69.7" y="246.9" width="41.4" height="49.7"><feTurbulence type="fractalNoise" baseFrequency="0.2" numOctaves="2" seed="37" result="t"/><feColorMatrix in="t" type="matrix" values="0 0 0 0 0 0 0 0 0 0 0 0 0 0 0 7 0 0 0 -4.060" result="a"/><feFlood flood-color="#b8689e" flood-opacity="0.6"/><feComposite in2="a" operator="in"/></filter>
<rect x="69.7" y="246.9" width="41.4" height="49.7" filter="url(#sp11)"/>
<g filter="url(#nb)">
<ellipse cx="68.4" cy="245.3" rx="1.5" ry="1.6" fill="#646890" opacity="0.7"/>
<ellipse cx="72.4" cy="246.8" rx="1.6" ry="1.6" fill="#646890" opacity="0.7"/>
<ellipse cx="77.7" cy="246.3" rx="1.3" ry="1.4" fill="#646890" opacity="0.7"/>
<ellipse cx="82.0" cy="245.6" rx="1.4" ry="1.6" fill="#646890" opacity="0.7"/>
<ellipse cx="86.8" cy="246.1" rx="1.3" ry="1.2" fill="#646890" opacity="0.7"/>
<ellipse cx="91.3" cy="246.3" rx="1.7" ry="1.8" fill="#646890" opacity="0.7"/>
<ellipse cx="95.8" cy="245.8" rx="1.3" ry="1.3" fill="#646890" opacity="0.7"/>
<ellipse cx="98.7" cy="245.1" rx="1.5" ry="1.3" fill="#646890" opacity="0.7"/>
<ellipse cx="104.4" cy="245.2" rx="1.4" ry="1.1" fill="#646890" opacity="0.7"/>
<ellipse cx="108.6" cy="246.2" rx="1.5" ry="1.4" fill="#646890" opacity="0.7"/>
<ellipse cx="111.7" cy="246.5" rx="1.4" ry="1.3" fill="#646890" opacity="0.7"/>
<ellipse cx="69.9" cy="250.5" rx="1.4" ry="1.3" fill="#646890" opacity="0.7"/>
<ellipse cx="76.1" cy="249.1" rx="1.6" ry="1.4" fill="#646890" opacity="0.7"/>
<ellipse cx="80.2" cy="250.2" rx="1.3" ry="1.2" fill="#646890" opacity="0.7"/>
<ellipse cx="83.3" cy="250.1" rx="1.4" ry="1.3" fill="#646890" opacity="0.7"/>
<ellipse cx="87.7" cy="250.6" rx="1.7" ry="1.8" fill="#646890" opacity="0.7"/>
<ellipse cx="93.3" cy="250.8" rx="1.7" ry="1.8" fill="#646890" opacity="0.7"/>
<ellipse cx="96.3" cy="249.3" rx="1.4" ry="1.2" fill="#646890" opacity="0.7"/>
<ellipse cx="102.0" cy="250.0" rx="1.3" ry="1.2" fill="#646890" opacity="0.7"/>
<ellipse cx="105.4" cy="250.6" rx="1.4" ry="1.2" fill="#646890" opacity="0.7"/>
<ellipse cx="111.3" cy="249.3" rx="1.4" ry="1.5" fill="#646890" opacity="0.7"/>
<ellipse cx="114.1" cy="250.1" rx="1.5" ry="1.6" fill="#646890" opacity="0.7"/>
<ellipse cx="68.5" cy="253.9" rx="1.5" ry="1.6" fill="#646890" opacity="0.7"/>
<ellipse cx="73.1" cy="253.3" rx="1.6" ry="1.5" fill="#646890" opacity="0.7"/>
<ellipse cx="76.4" cy="252.8" rx="1.7" ry="1.7" fill="#646890" opacity="0.7"/>
<ellipse cx="81.8" cy="254.1" rx="1.5" ry="1.3" fill="#646890" opacity="0.7"/>
<ellipse cx="86.1" cy="254.1" rx="1.3" ry="1.2" fill="#646890" opacity="0.7"/>
<ellipse cx="90.8" cy="254.4" rx="1.5" ry="1.2" fill="#646890" opacity="0.7"/>
<ellipse cx="95.4" cy="253.2" rx="1.7" ry="1.4" fill="#646890" opacity="0.7"/>
<ellipse cx="98.7" cy="252.6" rx="1.5" ry="1.3" fill="#646890" opacity="0.7"/>
<ellipse cx="102.9" cy="254.4" rx="1.5" ry="1.5" fill="#646890" opacity="0.7"/>
<ellipse cx="109.1" cy="254.1" rx="1.7" ry="1.6" fill="#646890" opacity="0.7"/>
<ellipse cx="111.8" cy="253.9" rx="1.6" ry="1.7" fill="#646890" opacity="0.7"/>
<ellipse cx="70.1" cy="258.2" rx="1.4" ry="1.3" fill="#646890" opacity="0.7"/>
<ellipse cx="75.6" cy="257.9" rx="1.5" ry="1.5" fill="#646890" opacity="0.7"/>
<ellipse cx="79.9" cy="257.2" rx="1.4" ry="1.5" fill="#646890" opacity="0.7"/>
<ellipse cx="84.9" cy="258.4" rx="1.3" ry="1.3" fill="#646890" opacity="0.7"/>
<ellipse cx="87.9" cy="257.2" rx="1.6" ry="1.3" fill="#646890" opacity="0.7"/>
<ellipse cx="93.4" cy="257.8" rx="1.4" ry="1.5" fill="#646890" opacity="0.7"/>
<ellipse cx="97.1" cy="257.3" rx="1.5" ry="1.2" fill="#646890" opacity="0.7"/>
<ellipse cx="102.7" cy="256.9" rx="1.5" ry="1.4" fill="#646890" opacity="0.7"/>
<ellipse cx="105.5" cy="257.8" rx="1.5" ry="1.4" fill="#646890" opacity="0.7"/>
<ellipse cx="110.0" cy="258.3" rx="1.7" ry="1.7" fill="#646890" opacity="0.7"/>
<ellipse cx="114.5" cy="258.3" rx="1.5" ry="1.4" fill="#646890" opacity="0.7"/>
<ellipse cx="68.4" cy="262.1" rx="1.6" ry="1.4" fill="#646890" opacity="0.7"/>
<ellipse cx="73.7" cy="261.7" rx="1.5" ry="1.5" fill="#646890" opacity="0.7"/>
<ellipse cx="76.9" cy="260.5" rx="1.3" ry="1.1" fill="#646890" opacity="0.7"/>
<ellipse cx="80.9" cy="260.5" rx="1.3" ry="1.3" fill="#646890" opacity="0.7"/>
<ellipse cx="86.7" cy="260.3" rx="1.7" ry="1.6" fill="#646890" opacity="0.7"/>
<ellipse cx="90.1" cy="261.4" rx="1.6" ry="1.3" fill="#646890" opacity="0.7"/>
<ellipse cx="94.3" cy="260.8" rx="1.4" ry="1.3" fill="#646890" opacity="0.7"/>
<ellipse cx="98.9" cy="261.6" rx="1.4" ry="1.2" fill="#646890" opacity="0.7"/>
<ellipse cx="103.1" cy="262.3" rx="1.4" ry="1.2" fill="#646890" opacity="0.7"/>
<ellipse cx="108.5" cy="261.7" rx="1.3" ry="1.2" fill="#646890" opacity="0.7"/>
<ellipse cx="112.8" cy="261.2" rx="1.3" ry="1.2" fill="#646890" opacity="0.7"/>
<ellipse cx="71.9" cy="265.9" rx="1.5" ry="1.5" fill="#646890" opacity="0.7"/>
<ellipse cx="76.0" cy="264.0" rx="1.6" ry="1.5" fill="#646890" opacity="0.7"/>
<ellipse cx="79.9" cy="266.0" rx="1.3" ry="1.3" fill="#646890" opacity="0.7"/>
<ellipse cx="84.4" cy="265.1" rx="1.6" ry="1.6" fill="#646890" opacity="0.7"/>
<ellipse cx="88.8" cy="264.3" rx="1.7" ry="1.7" fill="#646890" opacity="0.7"/>
<ellipse cx="93.4" cy="265.7" rx="1.4" ry="1.4" fill="#646890" opacity="0.7"/>
<ellipse cx="96.4" cy="265.1" rx="1.3" ry="1.3" fill="#646890" opacity="0.7"/>
<ellipse cx="101.9" cy="264.7" rx="1.3" ry="1.3" fill="#646890" opacity="0.7"/>
<ellipse cx="106.5" cy="266.0" rx="1.6" ry="1.6" fill="#646890" opacity="0.7"/>
<ellipse cx="111.4" cy="264.6" rx="1.3" ry="1.4" fill="#646890" opacity="0.7"/>
<ellipse cx="114.1" cy="265.8" rx="1.7" ry="1.9" fill="#646890" opacity="0.7"/>
<ellipse cx="68.9" cy="269.6" rx="1.6" ry="1.4" fill="#646890" opacity="0.7"/>
<ellipse cx="73.9" cy="268.4" rx="1.6" ry="1.4" fill="#646890" opacity="0.7"/>
<ellipse cx="77.7" cy="268.4" rx="1.7" ry="1.4" fill="#646890" opacity="0.7"/>
<ellipse cx="82.6" cy="269.3" rx="1.3" ry="1.2" fill="#646890" opacity="0.7"/>
<ellipse cx="85.7" cy="268.9" rx="1.3" ry="1.4" fill="#646890" opacity="0.7"/>
<ellipse cx="90.9" cy="268.3" rx="1.7" ry="1.5" fill="#646890" opacity="0.7"/>
<ellipse cx="94.4" cy="268.8" rx="1.7" ry="1.5" fill="#646890" opacity="0.7"/>
<ellipse cx="98.6" cy="268.9" rx="1.7" ry="1.4" fill="#646890" opacity="0.7"/>
<ellipse cx="104.9" cy="269.6" rx="1.7" ry="1.6" fill="#646890" opacity="0.7"/>
<ellipse cx="107.3" cy="269.6" rx="1.4" ry="1.3" fill="#646890" opacity="0.7"/>
<ellipse cx="113.2" cy="269.3" rx="1.3" ry="1.0" fill="#646890" opacity="0.7"/>
<ellipse cx="69.9" cy="273.3" rx="1.5" ry="1.5" fill="#646890" opacity="0.7"/>
<ellipse cx="74.6" cy="273.4" rx="1.7" ry="1.7" fill="#646890" opacity="0.7"/>
<ellipse cx="79.3" cy="272.4" rx="1.4" ry="1.2" fill="#646890" opacity="0.7"/>
<ellipse cx="83.4" cy="273.5" rx="1.3" ry="1.4" fill="#646890" opacity="0.7"/>
<ellipse cx="87.9" cy="273.5" rx="1.6" ry="1.4" fill="#646890" opacity="0.7"/>
<ellipse cx="92.9" cy="271.9" rx="1.6" ry="1.6" fill="#646890" opacity="0.7"/>
<ellipse cx="97.6" cy="272.8" rx="1.6" ry="1.5" fill="#646890" opacity="0.7"/>
<ellipse cx="100.7" cy="273.4" rx="1.7" ry="1.8" fill="#646890" opacity="0.7"/>
<ellipse cx="105.6" cy="271.6" rx="1.6" ry="1.4" fill="#646890" opacity="0.7"/>
<ellipse cx="111.1" cy="273.2" rx="1.5" ry="1.5" fill="#646890" opacity="0.7"/>
<ellipse cx="114.6" cy="272.0" rx="1.7" ry="1.6" fill="#646890" opacity="0.7"/>
<ellipse cx="68.8" cy="276.7" rx="1.5" ry="1.2" fill="#646890" opacity="0.7"/>
<ellipse cx="73.5" cy="276.5" rx="1.3" ry="1.1" fill="#646890" opacity="0.7"/>
<ellipse cx="77.6" cy="277.0" rx="1.6" ry="1.4" fill="#646890" opacity="0.7"/>
<ellipse cx="81.2" cy="275.8" rx="1.6" ry="1.6" fill="#646890" opacity="0.7"/>
<ellipse cx="86.3" cy="277.1" rx="1.4" ry="1.3" fill="#646890" opacity="0.7"/>
<ellipse cx="91.4" cy="277.3" rx="1.7" ry="1.3" fill="#646890" opacity="0.7"/>
<ellipse cx="95.0" cy="277.0" rx="1.6" ry="1.6" fill="#646890" opacity="0.7"/>
<ellipse cx="98.6" cy="276.3" rx="1.7" ry="1.6" fill="#646890" opacity="0.7"/>
<ellipse cx="102.9" cy="277.3" rx="1.6" ry="1.6" fill="#646890" opacity="0.7"/>
<ellipse cx="109.4" cy="276.9" rx="1.4" ry="1.4" fill="#646890" opacity="0.7"/>
<ellipse cx="113.3" cy="276.2" rx="1.6" ry="1.8" fill="#646890" opacity="0.7"/>
<ellipse cx="71.5" cy="279.4" rx="1.5" ry="1.2" fill="#646890" opacity="0.7"/>
<ellipse cx="75.0" cy="280.0" rx="1.5" ry="1.5" fill="#646890" opacity="0.7"/>
<ellipse cx="80.5" cy="279.6" rx="1.7" ry="1.8" fill="#646890" opacity="0.7"/>
<ellipse cx="83.4" cy="279.4" rx="1.5" ry="1.6" fill="#646890" opacity="0.7"/>
<ellipse cx="89.3" cy="279.9" rx="1.7" ry="1.6" fill="#646890" opacity="0.7"/>
<ellipse cx="93.8" cy="279.9" rx="1.4" ry="1.1" fill="#646890" opacity="0.7"/>
<ellipse cx="98.0" cy="279.7" rx="1.5" ry="1.2" fill="#646890" opacity="0.7"/>
<ellipse cx="102.6" cy="281.4" rx="1.4" ry="1.6" fill="#646890" opacity="0.7"/>
<ellipse cx="106.9" cy="280.8" rx="1.4" ry="1.4" fill="#646890" opacity="0.7"/>
<ellipse cx="111.4" cy="281.3" rx="1.6" ry="1.5" fill="#646890" opacity="0.7"/>
<ellipse cx="115.9" cy="279.9" rx="1.6" ry="1.7" fill="#646890" opacity="0.7"/>
<ellipse cx="69.5" cy="284.8" rx="1.6" ry="1.5" fill="#646890" opacity="0.7"/>
<ellipse cx="72.8" cy="283.5" rx="1.7" ry="1.7" fill="#646890" opacity="0.7"/>
<ellipse cx="78.4" cy="284.1" rx="1.4" ry="1.4" fill="#646890" opacity="0.7"/>
<ellipse cx="82.0" cy="285.0" rx="1.6" ry="1.7" fill="#646890" opacity="0.7"/>
<ellipse cx="86.3" cy="283.6" rx="1.7" ry="1.7" fill="#646890" opacity="0.7"/>
<ellipse cx="91.1" cy="284.3" rx="1.4" ry="1.5" fill="#646890" opacity="0.7"/>
<ellipse cx="94.6" cy="284.6" rx="1.6" ry="1.7" fill="#646890" opacity="0.7"/>
<ellipse cx="100.4" cy="283.6" rx="1.4" ry="1.5" fill="#646890" opacity="0.7"/>
<ellipse cx="104.6" cy="284.7" rx="1.5" ry="1.6" fill="#646890" opacity="0.7"/>
<ellipse cx="108.3" cy="283.5" rx="1.5" ry="1.6" fill="#646890" opacity="0.7"/>
<ellipse cx="113.1" cy="283.7" rx="1.6" ry="1.4" fill="#646890" opacity="0.7"/>
<ellipse cx="70.4" cy="288.8" rx="1.5" ry="1.6" fill="#646890" opacity="0.7"/>
<ellipse cx="74.8" cy="287.1" rx="1.4" ry="1.5" fill="#646890" opacity="0.7"/>
<ellipse cx="80.5" cy="289.1" rx="1.6" ry="1.7" fill="#646890" opacity="0.7"/>
<ellipse cx="83.7" cy="287.8" rx="1.5" ry="1.5" fill="#646890" opacity="0.7"/>
<ellipse cx="88.6" cy="288.6" rx="1.6" ry="1.4" fill="#646890" opacity="0.7"/>
<ellipse cx="91.8" cy="288.3" rx="1.3" ry="1.2" fill="#646890" opacity="0.7"/>
<ellipse cx="96.7" cy="289.0" rx="1.6" ry="1.5" fill="#646890" opacity="0.7"/>
<ellipse cx="101.5" cy="289.0" rx="1.5" ry="1.4" fill="#646890" opacity="0.7"/>
<ellipse cx="106.0" cy="288.3" rx="1.3" ry="1.3" fill="#646890" opacity="0.7"/>
<ellipse cx="109.5" cy="287.4" rx="1.3" ry="1.1" fill="#646890" opacity="0.7"/>
<ellipse cx="114.5" cy="287.7" rx="1.3" ry="1.4" fill="#646890" opacity="0.7"/>
<ellipse cx="68.0" cy="291.7" rx="1.7" ry="1.7" fill="#646890" opacity="0.7"/>
<ellipse cx="72.2" cy="292.0" rx="1.7" ry="1.5" fill="#646890" opacity="0.7"/>
<ellipse cx="78.5" cy="292.6" rx="1.6" ry="1.5" fill="#646890" opacity="0.7"/>
<ellipse cx="82.2" cy="292.9" rx="1.3" ry="1.3" fill="#646890" opacity="0.7"/>
<ellipse cx="86.8" cy="292.1" rx="1.3" ry="1.2" fill="#646890" opacity="0.7"/>
<ellipse cx="90.6" cy="290.9" rx="1.3" ry="1.2" fill="#646890" opacity="0.7"/>
<ellipse cx="96.0" cy="292.7" rx="1.7" ry="1.6" fill="#646890" opacity="0.7"/>
<ellipse cx="100.2" cy="292.3" rx="1.5" ry="1.3" fill="#646890" opacity="0.7"/>
<ellipse cx="104.6" cy="292.8" rx="1.3" ry="1.1" fill="#646890" opacity="0.7"/>
<ellipse cx="109.3" cy="292.4" rx="1.6" ry="1.6" fill="#646890" opacity="0.7"/>
<ellipse cx="111.6" cy="292.8" rx="1.6" ry="1.6" fill="#646890" opacity="0.7"/>
<ellipse cx="71.0" cy="295.6" rx="1.4" ry="1.3" fill="#646890" opacity="0.7"/>
<ellipse cx="75.1" cy="295.2" rx="1.4" ry="1.5" fill="#646890" opacity="0.7"/>
<ellipse cx="78.7" cy="295.9" rx="1.6" ry="1.7" fill="#646890" opacity="0.7"/>
<ellipse cx="84.4" cy="294.8" rx="1.6" ry="1.7" fill="#646890" opacity="0.7"/>
<ellipse cx="89.4" cy="296.6" rx="1.6" ry="1.3" fill="#646890" opacity="0.7"/>
<ellipse cx="93.7" cy="295.7" rx="1.3" ry="1.0" fill="#646890" opacity="0.7"/>
<ellipse cx="97.0" cy="295.6" rx="1.7" ry="1.5" fill="#646890" opacity="0.7"/>
<ellipse cx="101.4" cy="296.7" rx="1.5" ry="1.4" fill="#646890" opacity="0.7"/>
<ellipse cx="107.0" cy="296.5" rx="1.4" ry="1.2" fill="#646890" opacity="0.7"/>
<ellipse cx="110.5" cy="295.7" rx="1.7" ry="1.4" fill="#646890" opacity="0.7"/>
<ellipse cx="115.3" cy="295.2" rx="1.7" ry="1.6" fill="#646890" opacity="0.7"/>
<ellipse cx="68.0" cy="300.6" rx="1.6" ry="1.5" fill="#646890" opacity="0.7"/>
<ellipse cx="72.6" cy="299.0" rx="1.6" ry="1.6" fill="#646890" opacity="0.7"/>
<ellipse cx="77.5" cy="298.6" rx="1.5" ry="1.3" fill="#646890" opacity="0.7"/>
<ellipse cx="82.0" cy="298.7" rx="1.5" ry="1.5" fill="#646890" opacity="0.7"/>
<ellipse cx="87.0" cy="298.6" rx="1.3" ry="1.1" fill="#646890" opacity="0.7"/>
<ellipse cx="91.4" cy="299.0" rx="1.4" ry="1.4" fill="#646890" opacity="0.7"/>
<ellipse cx="95.7" cy="300.2" rx="1.5" ry="1.3" fill="#646890" opacity="0.7"/>
<ellipse cx="100.5" cy="298.8" rx="1.7" ry="1.6" fill="#646890" opacity="0.7"/>
<ellipse cx="105.0" cy="298.7" rx="1.7" ry="1.5" fill="#646890" opacity="0.7"/>
<ellipse cx="108.0" cy="298.4" rx="1.7" ry="1.7" fill="#646890" opacity="0.7"/>
<ellipse cx="112.7" cy="298.6" rx="1.4" ry="1.2" fill="#646890" opacity="0.7"/>
</g>
</g>
<clipPath id="h12"><rect x="113.8" y="246.9" width="41.1" height="49.7"/></clipPath>
<g clip-path="url(#h12)">
<rect x="113.8" y="246.9" width="41.1" height="49.7" fill="#7e529e"/>
<filter id="sp12" filterUnits="userSpaceOnUse" x="113.8" y="246.9" width="41.1" height="49.7"><feTurbulence type="fractalNoise" baseFrequency="0.18" numOctaves="2" seed="43" result="t"/><feColorMatrix in="t" type="matrix" values="0 0 0 0 0 0 0 0 0 0 0 0 0 0 0 7 0 0 0 -3.640" result="a"/><feFlood flood-color="#c83a8c" flood-opacity="0.85"/><feComposite in2="a" operator="in"/></filter>
<rect x="113.8" y="246.9" width="41.1" height="49.7" filter="url(#sp12)"/>
<filter id="sp13" filterUnits="userSpaceOnUse" x="113.8" y="246.9" width="41.1" height="49.7"><feTurbulence type="fractalNoise" baseFrequency="0.3" numOctaves="2" seed="47" result="t"/><feColorMatrix in="t" type="matrix" values="0 0 0 0 0 0 0 0 0 0 0 0 0 0 0 8 0 0 0 -5.280" result="a"/><feFlood flood-color="#d8d0ec" flood-opacity="0.6"/><feComposite in2="a" operator="in"/></filter>
<rect x="113.8" y="246.9" width="41.1" height="49.7" filter="url(#sp13)"/>
<g filter="url(#nb)">
<ellipse cx="113.1" cy="246.8" rx="1.9" ry="1.6" fill="#4a3490" opacity="0.8"/>
<ellipse cx="117.5" cy="246.4" rx="1.8" ry="1.6" fill="#4a3490" opacity="0.8"/>
<ellipse cx="123.4" cy="245.9" rx="1.5" ry="1.5" fill="#4a3490" opacity="0.8"/>
<ellipse cx="127.8" cy="246.4" rx="2.0" ry="1.9" fill="#4a3490" opacity="0.8"/>
<ellipse cx="132.9" cy="244.8" rx="1.9" ry="1.9" fill="#4a3490" opacity="0.8"/>
<ellipse cx="136.0" cy="247.1" rx="1.9" ry="1.9" fill="#4a3490" opacity="0.8"/>
<ellipse cx="142.2" cy="245.3" rx="1.9" ry="1.9" fill="#4a3490" opacity="0.8"/>
<ellipse cx="147.0" cy="245.1" rx="1.6" ry="1.5" fill="#4a3490" opacity="0.8"/>
<ellipse cx="150.9" cy="245.8" rx="1.9" ry="1.6" fill="#4a3490" opacity="0.8"/>
<ellipse cx="155.3" cy="245.0" rx="1.7" ry="1.4" fill="#4a3490" opacity="0.8"/>
<ellipse cx="115.2" cy="250.4" rx="1.9" ry="1.8" fill="#4a3490" opacity="0.8"/>
<ellipse cx="119.6" cy="250.5" rx="1.9" ry="1.7" fill="#4a3490" opacity="0.8"/>
<ellipse cx="126.0" cy="249.0" rx="1.7" ry="1.6" fill="#4a3490" opacity="0.8"/>
<ellipse cx="129.1" cy="249.1" rx="1.8" ry="1.5" fill="#4a3490" opacity="0.8"/>
<ellipse cx="134.8" cy="249.9" rx="1.4" ry="1.4" fill="#4a3490" opacity="0.8"/>
<ellipse cx="139.1" cy="249.5" rx="1.5" ry="1.4" fill="#4a3490" opacity="0.8"/>
<ellipse cx="144.7" cy="250.7" rx="1.5" ry="1.5" fill="#4a3490" opacity="0.8"/>
<ellipse cx="148.7" cy="250.9" rx="1.7" ry="1.5" fill="#4a3490" opacity="0.8"/>
<ellipse cx="153.0" cy="249.7" rx="1.9" ry="1.8" fill="#4a3490" opacity="0.8"/>
<ellipse cx="159.5" cy="249.4" rx="2.0" ry="1.7" fill="#4a3490" opacity="0.8"/>
<ellipse cx="111.9" cy="253.1" rx="1.7" ry="1.6" fill="#4a3490" opacity="0.8"/>
<ellipse cx="118.0" cy="255.0" rx="1.8" ry="1.6" fill="#4a3490" opacity="0.8"/>
<ellipse cx="121.3" cy="254.2" rx="1.7" ry="1.6" fill="#4a3490" opacity="0.8"/>
<ellipse cx="127.0" cy="253.8" rx="1.5" ry="1.7" fill="#4a3490" opacity="0.8"/>
<ellipse cx="131.4" cy="254.0" rx="1.6" ry="1.7" fill="#4a3490" opacity="0.8"/>
<ellipse cx="135.9" cy="255.3" rx="1.8" ry="1.6" fill="#4a3490" opacity="0.8"/>
<ellipse cx="140.9" cy="254.3" rx="1.6" ry="1.4" fill="#4a3490" opacity="0.8"/>
<ellipse cx="146.7" cy="254.6" rx="1.5" ry="1.3" fill="#4a3490" opacity="0.8"/>
<ellipse cx="151.1" cy="254.3" rx="2.0" ry="1.7" fill="#4a3490" opacity="0.8"/>
<ellipse cx="157.0" cy="253.5" rx="1.7" ry="1.6" fill="#4a3490" opacity="0.8"/>
<ellipse cx="114.5" cy="258.0" rx="1.6" ry="1.3" fill="#4a3490" opacity="0.8"/>
<ellipse cx="120.6" cy="258.2" rx="1.8" ry="1.8" fill="#4a3490" opacity="0.8"/>
<ellipse cx="124.5" cy="257.4" rx="1.8" ry="1.6" fill="#4a3490" opacity="0.8"/>
<ellipse cx="128.7" cy="258.8" rx="1.9" ry="1.9" fill="#4a3490" opacity="0.8"/>
<ellipse cx="133.7" cy="258.3" rx="1.8" ry="1.6" fill="#4a3490" opacity="0.8"/>
<ellipse cx="138.6" cy="258.0" rx="1.6" ry="1.6" fill="#4a3490" opacity="0.8"/>
<ellipse cx="143.3" cy="259.4" rx="2.0" ry="2.0" fill="#4a3490" opacity="0.8"/>
<ellipse cx="149.1" cy="258.4" rx="1.9" ry="1.8" fill="#4a3490" opacity="0.8"/>
<ellipse cx="152.9" cy="259.2" rx="1.9" ry="1.9" fill="#4a3490" opacity="0.8"/>
<ellipse cx="158.5" cy="257.5" rx="1.9" ry="1.6" fill="#4a3490" opacity="0.8"/>
<ellipse cx="112.0" cy="263.7" rx="1.9" ry="2.0" fill="#4a3490" opacity="0.8"/>
<ellipse cx="117.2" cy="262.4" rx="1.9" ry="1.9" fill="#4a3490" opacity="0.8"/>
<ellipse cx="121.4" cy="263.5" rx="1.4" ry="1.3" fill="#4a3490" opacity="0.8"/>
<ellipse cx="126.6" cy="262.8" rx="1.4" ry="1.4" fill="#4a3490" opacity="0.8"/>
<ellipse cx="132.5" cy="262.7" rx="1.8" ry="1.9" fill="#4a3490" opacity="0.8"/>
<ellipse cx="136.5" cy="262.0" rx="1.5" ry="1.4" fill="#4a3490" opacity="0.8"/>
<ellipse cx="142.1" cy="262.0" rx="2.0" ry="2.1" fill="#4a3490" opacity="0.8"/>
<ellipse cx="146.7" cy="263.7" rx="1.5" ry="1.4" fill="#4a3490" opacity="0.8"/>
<ellipse cx="152.2" cy="263.0" rx="2.0" ry="1.8" fill="#4a3490" opacity="0.8"/>
<ellipse cx="156.2" cy="261.8" rx="1.7" ry="1.4" fill="#4a3490" opacity="0.8"/>
<ellipse cx="116.0" cy="267.8" rx="1.9" ry="2.1" fill="#4a3490" opacity="0.8"/>
<ellipse cx="119.6" cy="265.7" rx="1.7" ry="1.4" fill="#4a3490" opacity="0.8"/>
<ellipse cx="124.9" cy="266.6" rx="1.6" ry="1.6" fill="#4a3490" opacity="0.8"/>
<ellipse cx="130.4" cy="267.4" rx="1.9" ry="1.9" fill="#4a3490" opacity="0.8"/>
<ellipse cx="134.2" cy="266.9" rx="1.6" ry="1.4" fill="#4a3490" opacity="0.8"/>
<ellipse cx="139.2" cy="267.2" rx="1.6" ry="1.4" fill="#4a3490" opacity="0.8"/>
<ellipse cx="144.3" cy="267.2" rx="1.9" ry="1.8" fill="#4a3490" opacity="0.8"/>
<ellipse cx="148.1" cy="267.5" rx="1.9" ry="1.6" fill="#4a3490" opacity="0.8"/>
<ellipse cx="152.5" cy="266.2" rx="1.4" ry="1.2" fill="#4a3490" opacity="0.8"/>
<ellipse cx="158.5" cy="265.6" rx="1.5" ry="1.6" fill="#4a3490" opacity="0.8"/>
<ellipse cx="113.0" cy="270.5" rx="1.7" ry="1.5" fill="#4a3490" opacity="0.8"/>
<ellipse cx="117.2" cy="269.9" rx="1.4" ry="1.3" fill="#4a3490" opacity="0.8"/>
<ellipse cx="122.1" cy="271.1" rx="1.8" ry="1.8" fill="#4a3490" opacity="0.8"/>
<ellipse cx="126.1" cy="271.8" rx="1.7" ry="1.6" fill="#4a3490" opacity="0.8"/>
<ellipse cx="133.2" cy="271.0" rx="1.9" ry="1.7" fill="#4a3490" opacity="0.8"/>
<ellipse cx="136.9" cy="271.7" rx="1.9" ry="1.5" fill="#4a3490" opacity="0.8"/>
<ellipse cx="142.0" cy="271.4" rx="2.0" ry="1.9" fill="#4a3490" opacity="0.8"/>
<ellipse cx="146.3" cy="271.0" rx="1.9" ry="2.1" fill="#4a3490" opacity="0.8"/>
<ellipse cx="150.9" cy="270.0" rx="1.5" ry="1.2" fill="#4a3490" opacity="0.8"/>
<ellipse cx="156.7" cy="271.4" rx="1.6" ry="1.3" fill="#4a3490" opacity="0.8"/>
<ellipse cx="114.0" cy="275.8" rx="1.8" ry="1.8" fill="#4a3490" opacity="0.8"/>
<ellipse cx="121.2" cy="274.9" rx="1.8" ry="1.9" fill="#4a3490" opacity="0.8"/>
<ellipse cx="125.8" cy="274.5" rx="1.6" ry="1.6" fill="#4a3490" opacity="0.8"/>
<ellipse cx="129.9" cy="275.9" rx="1.5" ry="1.5" fill="#4a3490" opacity="0.8"/>
<ellipse cx="134.2" cy="274.6" rx="2.0" ry="1.6" fill="#4a3490" opacity="0.8"/>
<ellipse cx="138.3" cy="275.2" rx="1.8" ry="1.9" fill="#4a3490" opacity="0.8"/>
<ellipse cx="143.5" cy="275.1" rx="1.9" ry="1.6" fill="#4a3490" opacity="0.8"/>
<ellipse cx="149.1" cy="274.5" rx="1.8" ry="1.7" fill="#4a3490" opacity="0.8"/>
<ellipse cx="153.4" cy="274.0" rx="1.7" ry="1.4" fill="#4a3490" opacity="0.8"/>
<ellipse cx="158.8" cy="275.7" rx="1.8" ry="1.7" fill="#4a3490" opacity="0.8"/>
<ellipse cx="112.3" cy="278.6" rx="1.6" ry="1.3" fill="#4a3490" opacity="0.8"/>
<ellipse cx="117.9" cy="279.2" rx="1.4" ry="1.5" fill="#4a3490" opacity="0.8"/>
<ellipse cx="123.2" cy="279.9" rx="1.6" ry="1.4" fill="#4a3490" opacity="0.8"/>
<ellipse cx="127.1" cy="279.1" rx="2.0" ry="1.7" fill="#4a3490" opacity="0.8"/>
<ellipse cx="132.2" cy="279.5" rx="1.6" ry="1.3" fill="#4a3490" opacity="0.8"/>
<ellipse cx="136.7" cy="279.4" rx="1.5" ry="1.4" fill="#4a3490" opacity="0.8"/>
<ellipse cx="141.3" cy="279.8" rx="1.5" ry="1.6" fill="#4a3490" opacity="0.8"/>
<ellipse cx="146.4" cy="278.4" rx="1.5" ry="1.6" fill="#4a3490" opacity="0.8"/>
<ellipse cx="151.5" cy="278.9" rx="1.7" ry="1.7" fill="#4a3490" opacity="0.8"/>
<ellipse cx="155.6" cy="279.5" rx="1.9" ry="2.0" fill="#4a3490" opacity="0.8"/>
<ellipse cx="116.1" cy="283.3" rx="1.9" ry="2.0" fill="#4a3490" opacity="0.8"/>
<ellipse cx="119.8" cy="283.8" rx="1.5" ry="1.3" fill="#4a3490" opacity="0.8"/>
<ellipse cx="125.6" cy="284.2" rx="1.7" ry="1.8" fill="#4a3490" opacity="0.8"/>
<ellipse cx="130.8" cy="282.4" rx="1.8" ry="1.9" fill="#4a3490" opacity="0.8"/>
<ellipse cx="134.5" cy="283.2" rx="1.4" ry="1.6" fill="#4a3490" opacity="0.8"/>
<ellipse cx="138.9" cy="283.0" rx="2.0" ry="2.1" fill="#4a3490" opacity="0.8"/>
<ellipse cx="144.2" cy="284.1" rx="1.6" ry="1.5" fill="#4a3490" opacity="0.8"/>
<ellipse cx="149.2" cy="282.5" rx="1.7" ry="1.8" fill="#4a3490" opacity="0.8"/>
<ellipse cx="153.5" cy="284.3" rx="1.4" ry="1.3" fill="#4a3490" opacity="0.8"/>
<ellipse cx="158.1" cy="283.0" rx="1.9" ry="2.1" fill="#4a3490" opacity="0.8"/>
<ellipse cx="112.5" cy="287.9" rx="1.7" ry="1.4" fill="#4a3490" opacity="0.8"/>
<ellipse cx="117.1" cy="286.9" rx="1.9" ry="1.8" fill="#4a3490" opacity="0.8"/>
<ellipse cx="121.2" cy="286.8" rx="1.8" ry="1.6" fill="#4a3490" opacity="0.8"/>
<ellipse cx="127.6" cy="286.6" rx="1.8" ry="1.8" fill="#4a3490" opacity="0.8"/>
<ellipse cx="131.6" cy="287.1" rx="1.4" ry="1.4" fill="#4a3490" opacity="0.8"/>
<ellipse cx="137.5" cy="288.5" rx="2.0" ry="1.8" fill="#4a3490" opacity="0.8"/>
<ellipse cx="140.5" cy="286.8" rx="1.7" ry="1.5" fill="#4a3490" opacity="0.8"/>
<ellipse cx="145.8" cy="286.8" rx="1.4" ry="1.6" fill="#4a3490" opacity="0.8"/>
<ellipse cx="151.1" cy="288.7" rx="1.8" ry="1.6" fill="#4a3490" opacity="0.8"/>
<ellipse cx="155.8" cy="288.1" rx="2.0" ry="2.0" fill="#4a3490" opacity="0.8"/>
<ellipse cx="115.2" cy="292.8" rx="1.8" ry="1.7" fill="#4a3490" opacity="0.8"/>
<ellipse cx="119.7" cy="292.2" rx="1.6" ry="1.4" fill="#4a3490" opacity="0.8"/>
<ellipse cx="123.9" cy="291.5" rx="1.6" ry="1.7" fill="#4a3490" opacity="0.8"/>
<ellipse cx="128.5" cy="291.9" rx="1.5" ry="1.2" fill="#4a3490" opacity="0.8"/>
<ellipse cx="134.7" cy="291.1" rx="1.6" ry="1.4" fill="#4a3490" opacity="0.8"/>
<ellipse cx="139.2" cy="292.3" rx="1.9" ry="2.1" fill="#4a3490" opacity="0.8"/>
<ellipse cx="143.6" cy="292.9" rx="1.9" ry="1.7" fill="#4a3490" opacity="0.8"/>
<ellipse cx="147.8" cy="291.5" rx="1.4" ry="1.6" fill="#4a3490" opacity="0.8"/>
<ellipse cx="154.8" cy="293.0" rx="1.8" ry="1.9" fill="#4a3490" opacity="0.8"/>
<ellipse cx="158.4" cy="291.1" rx="1.9" ry="1.5" fill="#4a3490" opacity="0.8"/>
<ellipse cx="112.4" cy="295.8" rx="1.8" ry="1.5" fill="#4a3490" opacity="0.8"/>
<ellipse cx="117.3" cy="295.9" rx="1.4" ry="1.4" fill="#4a3490" opacity="0.8"/>
<ellipse cx="122.1" cy="296.9" rx="1.8" ry="1.7" fill="#4a3490" opacity="0.8"/>
<ellipse cx="126.1" cy="296.8" rx="1.9" ry="1.9" fill="#4a3490" opacity="0.8"/>
<ellipse cx="131.7" cy="297.2" rx="1.5" ry="1.2" fill="#4a3490" opacity="0.8"/>
<ellipse cx="137.8" cy="297.0" rx="1.9" ry="1.9" fill="#4a3490" opacity="0.8"/>
<ellipse cx="141.7" cy="296.9" rx="1.9" ry="1.7" fill="#4a3490" opacity="0.8"/>
<ellipse cx="145.5" cy="295.6" rx="1.7" ry="1.6" fill="#4a3490" opacity="0.8"/>
<ellipse cx="150.3" cy="294.9" rx="2.0" ry="1.7" fill="#4a3490" opacity="0.8"/>
<ellipse cx="157.0" cy="295.7" rx="1.5" ry="1.3" fill="#4a3490" opacity="0.8"/>
<ellipse cx="114.5" cy="301.1" rx="1.7" ry="1.7" fill="#4a3490" opacity="0.8"/>
<ellipse cx="120.7" cy="300.5" rx="1.7" ry="1.7" fill="#4a3490" opacity="0.8"/>
<ellipse cx="124.3" cy="299.3" rx="1.5" ry="1.6" fill="#4a3490" opacity="0.8"/>
<ellipse cx="128.7" cy="300.5" rx="1.9" ry="1.7" fill="#4a3490" opacity="0.8"/>
<ellipse cx="135.4" cy="300.5" rx="1.8" ry="1.8" fill="#4a3490" opacity="0.8"/>
<ellipse cx="138.6" cy="299.4" rx="1.5" ry="1.5" fill="#4a3490" opacity="0.8"/>
<ellipse cx="144.8" cy="300.8" rx="1.8" ry="1.5" fill="#4a3490" opacity="0.8"/>
<ellipse cx="148.8" cy="300.4" rx="1.7" ry="1.7" fill="#4a3490" opacity="0.8"/>
<ellipse cx="152.5" cy="299.3" rx="1.9" ry="1.9" fill="#4a3490" opacity="0.8"/>
<ellipse cx="159.5" cy="299.1" rx="1.6" ry="1.5" fill="#4a3490" opacity="0.8"/>
</g>
</g>
<clipPath id="h13"><rect x="157.4" y="246.9" width="41.1" height="49.7"/></clipPath>
<g clip-path="url(#h13)">
<rect x="157.4" y="246.9" width="41.1" height="49.7" fill="#a09ec8"/>
<ellipse cx="165.4" cy="281.75" rx="8" ry="16" fill="#b8609e" opacity="0.55" transform="rotate(0 165.4 281.75)" filter="url(#hb)"/>
<ellipse cx="185.95" cy="267.75" rx="14" ry="18" fill="#8a88c0" opacity="0.5" transform="rotate(0 185.95 267.75)" filter="url(#hb)"/>
<g filter="url(#nb)">
<ellipse cx="155.8" cy="246.9" rx="1.8" ry="1.6" fill="#6a68ae" opacity="0.7"/>
<ellipse cx="161.9" cy="244.9" rx="1.6" ry="1.4" fill="#6a68ae" opacity="0.7"/>
<ellipse cx="166.2" cy="246.4" rx="1.4" ry="1.3" fill="#6a68ae" opacity="0.7"/>
<ellipse cx="170.3" cy="244.8" rx="1.8" ry="1.5" fill="#6a68ae" opacity="0.7"/>
<ellipse cx="175.1" cy="245.6" rx="1.4" ry="1.2" fill="#6a68ae" opacity="0.7"/>
<ellipse cx="179.6" cy="246.0" rx="1.4" ry="1.2" fill="#6a68ae" opacity="0.7"/>
<ellipse cx="184.0" cy="246.4" rx="1.3" ry="1.3" fill="#6a68ae" opacity="0.7"/>
<ellipse cx="187.5" cy="246.3" rx="1.3" ry="1.3" fill="#6a68ae" opacity="0.7"/>
<ellipse cx="193.4" cy="246.8" rx="1.8" ry="1.7" fill="#6a68ae" opacity="0.7"/>
<ellipse cx="197.8" cy="245.0" rx="1.8" ry="1.7" fill="#6a68ae" opacity="0.7"/>
<ellipse cx="201.7" cy="246.7" rx="1.4" ry="1.2" fill="#6a68ae" opacity="0.7"/>
<ellipse cx="158.2" cy="248.8" rx="1.7" ry="1.5" fill="#6a68ae" opacity="0.7"/>
<ellipse cx="163.7" cy="250.0" rx="1.5" ry="1.7" fill="#6a68ae" opacity="0.7"/>
<ellipse cx="168.7" cy="249.3" rx="1.8" ry="1.9" fill="#6a68ae" opacity="0.7"/>
<ellipse cx="171.2" cy="250.0" rx="1.8" ry="1.5" fill="#6a68ae" opacity="0.7"/>
<ellipse cx="177.4" cy="250.1" rx="1.4" ry="1.3" fill="#6a68ae" opacity="0.7"/>
<ellipse cx="180.3" cy="249.5" rx="1.6" ry="1.6" fill="#6a68ae" opacity="0.7"/>
<ellipse cx="184.8" cy="249.6" rx="1.7" ry="1.4" fill="#6a68ae" opacity="0.7"/>
<ellipse cx="190.8" cy="249.7" rx="1.5" ry="1.4" fill="#6a68ae" opacity="0.7"/>
<ellipse cx="194.7" cy="249.2" rx="1.5" ry="1.4" fill="#6a68ae" opacity="0.7"/>
<ellipse cx="199.2" cy="250.9" rx="1.5" ry="1.3" fill="#6a68ae" opacity="0.7"/>
<ellipse cx="203.4" cy="249.4" rx="1.5" ry="1.3" fill="#6a68ae" opacity="0.7"/>
<ellipse cx="156.8" cy="254.6" rx="1.7" ry="1.8" fill="#6a68ae" opacity="0.7"/>
<ellipse cx="159.9" cy="254.0" rx="1.3" ry="1.1" fill="#6a68ae" opacity="0.7"/>
<ellipse cx="165.6" cy="254.0" rx="1.4" ry="1.3" fill="#6a68ae" opacity="0.7"/>
<ellipse cx="169.9" cy="254.1" rx="1.5" ry="1.3" fill="#6a68ae" opacity="0.7"/>
<ellipse cx="175.2" cy="253.2" rx="1.4" ry="1.2" fill="#6a68ae" opacity="0.7"/>
<ellipse cx="178.1" cy="253.0" rx="1.6" ry="1.5" fill="#6a68ae" opacity="0.7"/>
<ellipse cx="183.5" cy="253.2" rx="1.7" ry="1.5" fill="#6a68ae" opacity="0.7"/>
<ellipse cx="187.8" cy="253.8" rx="1.7" ry="1.6" fill="#6a68ae" opacity="0.7"/>
<ellipse cx="192.3" cy="254.0" rx="1.5" ry="1.6" fill="#6a68ae" opacity="0.7"/>
<ellipse cx="197.0" cy="253.8" rx="1.7" ry="1.6" fill="#6a68ae" opacity="0.7"/>
<ellipse cx="202.0" cy="253.4" rx="1.6" ry="1.4" fill="#6a68ae" opacity="0.7"/>
<ellipse cx="157.6" cy="258.5" rx="1.4" ry="1.2" fill="#6a68ae" opacity="0.7"/>
<ellipse cx="162.8" cy="257.4" rx="1.6" ry="1.8" fill="#6a68ae" opacity="0.7"/>
<ellipse cx="166.8" cy="257.8" rx="1.8" ry="1.7" fill="#6a68ae" opacity="0.7"/>
<ellipse cx="172.8" cy="256.7" rx="1.7" ry="1.7" fill="#6a68ae" opacity="0.7"/>
<ellipse cx="176.8" cy="256.6" rx="1.6" ry="1.7" fill="#6a68ae" opacity="0.7"/>
<ellipse cx="181.0" cy="256.9" rx="1.6" ry="1.6" fill="#6a68ae" opacity="0.7"/>
<ellipse cx="186.2" cy="258.6" rx="1.5" ry="1.3" fill="#6a68ae" opacity="0.7"/>
<ellipse cx="190.2" cy="257.3" rx="1.5" ry="1.3" fill="#6a68ae" opacity="0.7"/>
<ellipse cx="195.2" cy="258.3" rx="1.5" ry="1.5" fill="#6a68ae" opacity="0.7"/>
<ellipse cx="198.2" cy="257.6" rx="1.7" ry="1.9" fill="#6a68ae" opacity="0.7"/>
<ellipse cx="204.2" cy="258.6" rx="1.4" ry="1.5" fill="#6a68ae" opacity="0.7"/>
<ellipse cx="155.7" cy="262.4" rx="1.7" ry="1.6" fill="#6a68ae" opacity="0.7"/>
<ellipse cx="160.3" cy="261.8" rx="1.4" ry="1.4" fill="#6a68ae" opacity="0.7"/>
<ellipse cx="166.1" cy="262.3" rx="1.3" ry="1.1" fill="#6a68ae" opacity="0.7"/>
<ellipse cx="169.5" cy="262.0" rx="1.3" ry="1.3" fill="#6a68ae" opacity="0.7"/>
<ellipse cx="174.1" cy="261.0" rx="1.4" ry="1.4" fill="#6a68ae" opacity="0.7"/>
<ellipse cx="179.9" cy="260.6" rx="1.7" ry="1.8" fill="#6a68ae" opacity="0.7"/>
<ellipse cx="184.5" cy="260.5" rx="1.5" ry="1.5" fill="#6a68ae" opacity="0.7"/>
<ellipse cx="188.6" cy="261.0" rx="1.4" ry="1.4" fill="#6a68ae" opacity="0.7"/>
<ellipse cx="192.0" cy="260.5" rx="1.5" ry="1.4" fill="#6a68ae" opacity="0.7"/>
<ellipse cx="197.1" cy="262.1" rx="1.6" ry="1.7" fill="#6a68ae" opacity="0.7"/>
<ellipse cx="202.1" cy="260.9" rx="1.6" ry="1.5" fill="#6a68ae" opacity="0.7"/>
<ellipse cx="158.1" cy="264.4" rx="1.4" ry="1.3" fill="#6a68ae" opacity="0.7"/>
<ellipse cx="162.3" cy="265.7" rx="1.8" ry="1.6" fill="#6a68ae" opacity="0.7"/>
<ellipse cx="167.0" cy="264.7" rx="1.7" ry="1.6" fill="#6a68ae" opacity="0.7"/>
<ellipse cx="171.3" cy="264.5" rx="1.6" ry="1.4" fill="#6a68ae" opacity="0.7"/>
<ellipse cx="175.9" cy="265.9" rx="1.7" ry="1.4" fill="#6a68ae" opacity="0.7"/>
<ellipse cx="181.4" cy="265.6" rx="1.6" ry="1.4" fill="#6a68ae" opacity="0.7"/>
<ellipse cx="185.2" cy="266.0" rx="1.3" ry="1.1" fill="#6a68ae" opacity="0.7"/>
<ellipse cx="189.6" cy="265.9" rx="1.6" ry="1.5" fill="#6a68ae" opacity="0.7"/>
<ellipse cx="194.9" cy="266.0" rx="1.5" ry="1.6" fill="#6a68ae" opacity="0.7"/>
<ellipse cx="199.3" cy="264.7" rx="1.6" ry="1.7" fill="#6a68ae" opacity="0.7"/>
<ellipse cx="204.1" cy="265.5" rx="1.7" ry="1.5" fill="#6a68ae" opacity="0.7"/>
<ellipse cx="155.3" cy="269.4" rx="1.7" ry="1.7" fill="#6a68ae" opacity="0.7"/>
<ellipse cx="160.3" cy="268.7" rx="1.8" ry="1.8" fill="#6a68ae" opacity="0.7"/>
<ellipse cx="165.3" cy="270.3" rx="1.4" ry="1.3" fill="#6a68ae" opacity="0.7"/>
<ellipse cx="169.2" cy="269.2" rx="1.4" ry="1.5" fill="#6a68ae" opacity="0.7"/>
<ellipse cx="175.0" cy="269.3" rx="1.6" ry="1.4" fill="#6a68ae" opacity="0.7"/>
<ellipse cx="179.9" cy="270.2" rx="1.7" ry="1.8" fill="#6a68ae" opacity="0.7"/>
<ellipse cx="183.9" cy="269.4" rx="1.7" ry="1.7" fill="#6a68ae" opacity="0.7"/>
<ellipse cx="188.1" cy="269.7" rx="1.6" ry="1.5" fill="#6a68ae" opacity="0.7"/>
<ellipse cx="193.2" cy="268.3" rx="1.6" ry="1.7" fill="#6a68ae" opacity="0.7"/>
<ellipse cx="197.8" cy="268.9" rx="1.6" ry="1.6" fill="#6a68ae" opacity="0.7"/>
<ellipse cx="200.3" cy="269.4" rx="1.6" ry="1.7" fill="#6a68ae" opacity="0.7"/>
<ellipse cx="158.0" cy="273.0" rx="1.6" ry="1.5" fill="#6a68ae" opacity="0.7"/>
<ellipse cx="162.3" cy="273.6" rx="1.5" ry="1.6" fill="#6a68ae" opacity="0.7"/>
<ellipse cx="167.4" cy="272.6" rx="1.4" ry="1.1" fill="#6a68ae" opacity="0.7"/>
<ellipse cx="173.0" cy="272.3" rx="1.6" ry="1.6" fill="#6a68ae" opacity="0.7"/>
<ellipse cx="177.5" cy="274.2" rx="1.7" ry="1.8" fill="#6a68ae" opacity="0.7"/>
<ellipse cx="180.6" cy="273.9" rx="1.6" ry="1.3" fill="#6a68ae" opacity="0.7"/>
<ellipse cx="185.6" cy="272.6" rx="1.7" ry="1.4" fill="#6a68ae" opacity="0.7"/>
<ellipse cx="189.6" cy="273.2" rx="1.6" ry="1.6" fill="#6a68ae" opacity="0.7"/>
<ellipse cx="194.2" cy="272.7" rx="1.4" ry="1.2" fill="#6a68ae" opacity="0.7"/>
<ellipse cx="199.4" cy="273.2" rx="1.7" ry="1.4" fill="#6a68ae" opacity="0.7"/>
<ellipse cx="204.6" cy="274.1" rx="1.6" ry="1.5" fill="#6a68ae" opacity="0.7"/>
<ellipse cx="155.6" cy="277.8" rx="1.5" ry="1.6" fill="#6a68ae" opacity="0.7"/>
<ellipse cx="160.2" cy="277.6" rx="1.7" ry="1.4" fill="#6a68ae" opacity="0.7"/>
<ellipse cx="165.1" cy="278.1" rx="1.3" ry="1.3" fill="#6a68ae" opacity="0.7"/>
<ellipse cx="169.6" cy="278.0" rx="1.6" ry="1.5" fill="#6a68ae" opacity="0.7"/>
<ellipse cx="175.3" cy="276.4" rx="1.4" ry="1.3" fill="#6a68ae" opacity="0.7"/>
<ellipse cx="179.7" cy="276.2" rx="1.5" ry="1.2" fill="#6a68ae" opacity="0.7"/>
<ellipse cx="182.7" cy="276.7" rx="1.3" ry="1.2" fill="#6a68ae" opacity="0.7"/>
<ellipse cx="188.2" cy="276.3" rx="1.8" ry="1.7" fill="#6a68ae" opacity="0.7"/>
<ellipse cx="192.5" cy="278.2" rx="1.3" ry="1.3" fill="#6a68ae" opacity="0.7"/>
<ellipse cx="195.9" cy="278.0" rx="1.6" ry="1.4" fill="#6a68ae" opacity="0.7"/>
<ellipse cx="201.4" cy="277.2" rx="1.4" ry="1.5" fill="#6a68ae" opacity="0.7"/>
<ellipse cx="158.6" cy="281.0" rx="1.6" ry="1.5" fill="#6a68ae" opacity="0.7"/>
<ellipse cx="163.1" cy="282.1" rx="1.5" ry="1.3" fill="#6a68ae" opacity="0.7"/>
<ellipse cx="168.5" cy="281.8" rx="1.7" ry="1.6" fill="#6a68ae" opacity="0.7"/>
<ellipse cx="172.6" cy="280.8" rx="1.5" ry="1.6" fill="#6a68ae" opacity="0.7"/>
<ellipse cx="175.6" cy="281.9" rx="1.4" ry="1.4" fill="#6a68ae" opacity="0.7"/>
<ellipse cx="181.1" cy="281.2" rx="1.4" ry="1.4" fill="#6a68ae" opacity="0.7"/>
<ellipse cx="186.1" cy="280.8" rx="1.8" ry="1.7" fill="#6a68ae" opacity="0.7"/>
<ellipse cx="190.1" cy="281.4" rx="1.6" ry="1.7" fill="#6a68ae" opacity="0.7"/>
<ellipse cx="195.2" cy="280.1" rx="1.6" ry="1.6" fill="#6a68ae" opacity="0.7"/>
<ellipse cx="198.1" cy="282.1" rx="1.5" ry="1.3" fill="#6a68ae" opacity="0.7"/>
<ellipse cx="204.4" cy="281.7" rx="1.5" ry="1.2" fill="#6a68ae" opacity="0.7"/>
<ellipse cx="157.2" cy="285.3" rx="1.4" ry="1.5" fill="#6a68ae" opacity="0.7"/>
<ellipse cx="159.8" cy="284.9" rx="1.6" ry="1.5" fill="#6a68ae" opacity="0.7"/>
<ellipse cx="165.2" cy="285.2" rx="1.6" ry="1.5" fill="#6a68ae" opacity="0.7"/>
<ellipse cx="170.2" cy="285.1" rx="1.6" ry="1.3" fill="#6a68ae" opacity="0.7"/>
<ellipse cx="175.3" cy="284.3" rx="1.8" ry="1.7" fill="#6a68ae" opacity="0.7"/>
<ellipse cx="178.1" cy="284.9" rx="1.7" ry="1.7" fill="#6a68ae" opacity="0.7"/>
<ellipse cx="183.7" cy="286.1" rx="1.8" ry="1.5" fill="#6a68ae" opacity="0.7"/>
<ellipse cx="187.8" cy="284.7" rx="1.8" ry="1.6" fill="#6a68ae" opacity="0.7"/>
<ellipse cx="191.6" cy="284.6" rx="1.7" ry="1.6" fill="#6a68ae" opacity="0.7"/>
<ellipse cx="197.5" cy="284.8" rx="1.6" ry="1.3" fill="#6a68ae" opacity="0.7"/>
<ellipse cx="201.3" cy="285.1" rx="1.6" ry="1.4" fill="#6a68ae" opacity="0.7"/>
<ellipse cx="159.6" cy="289.9" rx="1.7" ry="1.8" fill="#6a68ae" opacity="0.7"/>
<ellipse cx="162.3" cy="290.0" rx="1.4" ry="1.3" fill="#6a68ae" opacity="0.7"/>
<ellipse cx="168.5" cy="288.7" rx="1.6" ry="1.4" fill="#6a68ae" opacity="0.7"/>
<ellipse cx="173.1" cy="290.0" rx="1.6" ry="1.4" fill="#6a68ae" opacity="0.7"/>
<ellipse cx="175.6" cy="289.0" rx="1.8" ry="1.7" fill="#6a68ae" opacity="0.7"/>
<ellipse cx="182.0" cy="288.2" rx="1.7" ry="1.4" fill="#6a68ae" opacity="0.7"/>
<ellipse cx="185.0" cy="288.7" rx="1.6" ry="1.3" fill="#6a68ae" opacity="0.7"/>
<ellipse cx="190.4" cy="287.9" rx="1.4" ry="1.3" fill="#6a68ae" opacity="0.7"/>
<ellipse cx="194.4" cy="288.4" rx="1.6" ry="1.4" fill="#6a68ae" opacity="0.7"/>
<ellipse cx="198.6" cy="289.1" rx="1.5" ry="1.3" fill="#6a68ae" opacity="0.7"/>
<ellipse cx="203.4" cy="289.8" rx="1.5" ry="1.5" fill="#6a68ae" opacity="0.7"/>
<ellipse cx="157.0" cy="293.3" rx="1.7" ry="1.7" fill="#6a68ae" opacity="0.7"/>
<ellipse cx="160.9" cy="293.8" rx="1.6" ry="1.4" fill="#6a68ae" opacity="0.7"/>
<ellipse cx="165.4" cy="293.6" rx="1.7" ry="1.4" fill="#6a68ae" opacity="0.7"/>
<ellipse cx="170.7" cy="293.8" rx="1.5" ry="1.4" fill="#6a68ae" opacity="0.7"/>
<ellipse cx="173.7" cy="293.5" rx="1.6" ry="1.7" fill="#6a68ae" opacity="0.7"/>
<ellipse cx="177.9" cy="293.9" rx="1.6" ry="1.3" fill="#6a68ae" opacity="0.7"/>
<ellipse cx="182.5" cy="292.5" rx="1.4" ry="1.5" fill="#6a68ae" opacity="0.7"/>
<ellipse cx="187.4" cy="293.2" rx="1.6" ry="1.3" fill="#6a68ae" opacity="0.7"/>
<ellipse cx="191.8" cy="292.0" rx="1.7" ry="1.4" fill="#6a68ae" opacity="0.7"/>
<ellipse cx="197.3" cy="292.2" rx="1.4" ry="1.5" fill="#6a68ae" opacity="0.7"/>
<ellipse cx="200.4" cy="293.1" rx="1.6" ry="1.3" fill="#6a68ae" opacity="0.7"/>
<ellipse cx="159.4" cy="296.1" rx="1.8" ry="1.6" fill="#6a68ae" opacity="0.7"/>
<ellipse cx="162.7" cy="297.5" rx="1.7" ry="1.8" fill="#6a68ae" opacity="0.7"/>
<ellipse cx="167.0" cy="296.3" rx="1.4" ry="1.3" fill="#6a68ae" opacity="0.7"/>
<ellipse cx="171.6" cy="296.3" rx="1.4" ry="1.2" fill="#6a68ae" opacity="0.7"/>
<ellipse cx="176.6" cy="296.4" rx="1.7" ry="1.3" fill="#6a68ae" opacity="0.7"/>
<ellipse cx="182.0" cy="296.9" rx="1.7" ry="1.4" fill="#6a68ae" opacity="0.7"/>
<ellipse cx="185.8" cy="296.1" rx="1.7" ry="1.5" fill="#6a68ae" opacity="0.7"/>
<ellipse cx="190.1" cy="296.4" rx="1.6" ry="1.6" fill="#6a68ae" opacity="0.7"/>
<ellipse cx="195.0" cy="297.0" rx="1.6" ry="1.6" fill="#6a68ae" opacity="0.7"/>
<ellipse cx="200.0" cy="296.0" rx="1.3" ry="1.2" fill="#6a68ae" opacity="0.7"/>
<ellipse cx="204.5" cy="296.3" rx="1.7" ry="1.7" fill="#6a68ae" opacity="0.7"/>
<ellipse cx="157.1" cy="300.6" rx="1.3" ry="1.2" fill="#6a68ae" opacity="0.7"/>
<ellipse cx="160.9" cy="301.3" rx="1.5" ry="1.2" fill="#6a68ae" opacity="0.7"/>
<ellipse cx="166.4" cy="301.4" rx="1.8" ry="1.6" fill="#6a68ae" opacity="0.7"/>
<ellipse cx="170.1" cy="299.6" rx="1.6" ry="1.6" fill="#6a68ae" opacity="0.7"/>
<ellipse cx="174.2" cy="300.8" rx="1.8" ry="1.9" fill="#6a68ae" opacity="0.7"/>
<ellipse cx="178.6" cy="301.6" rx="1.5" ry="1.2" fill="#6a68ae" opacity="0.7"/>
<ellipse cx="183.1" cy="301.4" rx="1.3" ry="1.2" fill="#6a68ae" opacity="0.7"/>
<ellipse cx="187.3" cy="300.6" rx="1.5" ry="1.3" fill="#6a68ae" opacity="0.7"/>
<ellipse cx="191.6" cy="300.5" rx="1.5" ry="1.4" fill="#6a68ae" opacity="0.7"/>
<ellipse cx="195.9" cy="300.8" rx="1.6" ry="1.8" fill="#6a68ae" opacity="0.7"/>
<ellipse cx="201.6" cy="299.6" rx="1.7" ry="1.6" fill="#6a68ae" opacity="0.7"/>
</g>
<g filter="url(#nb)">
<ellipse cx="164.3" cy="283.1" rx="1.4" ry="1.3" fill="#c0448c" opacity="0.75"/>
<ellipse cx="168.7" cy="277.4" rx="1.2" ry="1.3" fill="#c0448c" opacity="0.75"/>
<ellipse cx="161.9" cy="286.4" rx="1.2" ry="1.3" fill="#c0448c" opacity="0.75"/>
<ellipse cx="164.2" cy="278.4" rx="1.4" ry="1.4" fill="#c0448c" opacity="0.75"/>
<ellipse cx="163.1" cy="277.7" rx="1.4" ry="1.2" fill="#c0448c" opacity="0.75"/>
<ellipse cx="159.7" cy="284.9" rx="1.4" ry="1.3" fill="#c0448c" opacity="0.75"/>
<ellipse cx="169.9" cy="286.3" rx="1.2" ry="1.0" fill="#c0448c" opacity="0.75"/>
<ellipse cx="166.3" cy="277.9" rx="1.0" ry="0.9" fill="#c0448c" opacity="0.75"/>
<ellipse cx="163.5" cy="273.2" rx="1.0" ry="0.9" fill="#c0448c" opacity="0.75"/>
</g>
</g>
<line x1="248.2" y1="189.2" x2="256.2" y2="189.2" stroke="#2a6b48" stroke-width="1.3"/>
<text transform="translate(259.30,191.40) scale(0.92,1)" font-size="6.58" text-anchor="start" fill="#1a1a1a" stroke="#1a1a1a" stroke-width="0.06" >C (n=25)</text>
<line x1="248.2" y1="199.4" x2="256.2" y2="199.4" stroke="#2c4f9c" stroke-width="1.3"/>
<text transform="translate(259.30,201.60) scale(0.92,1)" font-size="6.58" text-anchor="start" fill="#1a1a1a" stroke="#1a1a1a" stroke-width="0.06" >Sos1-/- (n=16)</text>
<line x1="248.2" y1="209.3" x2="256.2" y2="209.3" stroke="#4b1d6b" stroke-width="1.3"/>
<text transform="translate(259.30,211.50) scale(0.92,1)" font-size="6.58" text-anchor="start" fill="#1a1a1a" stroke="#1a1a1a" stroke-width="0.06" >Kras (n=14)</text>
<line x1="248.2" y1="219.1" x2="256.2" y2="219.1" stroke="#b8103c" stroke-width="1.3"/>
<text transform="translate(259.30,221.30) scale(0.92,1)" font-size="6.58" text-anchor="start" fill="#1a1a1a" stroke="#1a1a1a" stroke-width="0.06" >Kras;Sos1-/- (n=13)</text>
<line x1="245.5" y1="214.6" x2="245.5" y2="293.40000000000003" stroke="#1a1a1a" stroke-width="1.2"/>
<line x1="244.9" y1="292.8" x2="356.4" y2="292.8" stroke="#1a1a1a" stroke-width="1.2"/>
<line x1="242.5" y1="292.8" x2="245.5" y2="292.8" stroke="#1a1a1a" stroke-width="1.0"/>
<text transform="translate(239.90,295.05) scale(1.0,1)" font-size="6.40" text-anchor="end" fill="#1a1a1a" stroke="#1a1a1a" stroke-width="0.06" >0</text>
<line x1="242.5" y1="260.85" x2="245.5" y2="260.85" stroke="#1a1a1a" stroke-width="1.0"/>
<text transform="translate(239.90,263.10) scale(1.0,1)" font-size="6.40" text-anchor="end" fill="#1a1a1a" stroke="#1a1a1a" stroke-width="0.06" >50</text>
<line x1="242.5" y1="228.9" x2="245.5" y2="228.9" stroke="#1a1a1a" stroke-width="1.0"/>
<text transform="translate(239.90,231.15) scale(1.0,1)" font-size="6.40" text-anchor="end" fill="#1a1a1a" stroke="#1a1a1a" stroke-width="0.06" >100</text>
<line x1="245.5" y1="292.8" x2="245.5" y2="295.6" stroke="#1a1a1a" stroke-width="1.0"/>
<text transform="translate(245.50,305.70) scale(1.0,1)" font-size="6.40" text-anchor="middle" fill="#1a1a1a" stroke="#1a1a1a" stroke-width="0.06" >0</text>
<line x1="282.465" y1="292.8" x2="282.465" y2="295.6" stroke="#1a1a1a" stroke-width="1.0"/>
<text transform="translate(282.46,305.70) scale(1.0,1)" font-size="6.40" text-anchor="middle" fill="#1a1a1a" stroke="#1a1a1a" stroke-width="0.06" >50</text>
<line x1="319.43" y1="292.8" x2="319.43" y2="295.6" stroke="#1a1a1a" stroke-width="1.0"/>
<text transform="translate(319.43,305.70) scale(1.0,1)" font-size="6.40" text-anchor="middle" fill="#1a1a1a" stroke="#1a1a1a" stroke-width="0.06" >100</text>
<line x1="356.395" y1="292.8" x2="356.395" y2="295.6" stroke="#1a1a1a" stroke-width="1.0"/>
<text transform="translate(356.39,305.70) scale(1.0,1)" font-size="6.40" text-anchor="middle" fill="#1a1a1a" stroke="#1a1a1a" stroke-width="0.06" >150</text>
<text transform="translate(302.90,318.10) scale(0.92,1)" font-size="9.24" text-anchor="middle" fill="#1a1a1a" stroke="#1a1a1a" stroke-width="0.06" >Days after birth</text>
<text transform="translate(223.41,260.70) rotate(-90) scale(0.92,1)" font-size="8.91" text-anchor="middle" fill="#1a1a1a" stroke="#1a1a1a" stroke-width="0.06">Survival (%)</text>
<line x1="245.5" y1="228.9" x2="356.4" y2="228.9" stroke="#2a6b48" stroke-width="1.3"/>
<line x1="245.5" y1="228.9" x2="356.4" y2="228.9" stroke="#3a5a9c" stroke-width="1.3"/>
<polyline points="282,228.9 282,233 286.4,233 286.4,237.9 288,237.9 288,242.7 294.1,242.7 294.1,247.5 295.7,247.5 295.7,256.4 302.1,256.4 302.1,259.6 303.7,259.6 303.7,265.2 306.9,265.2 306.9,270 310.2,270 310.2,274.8 311.8,274.8 311.8,279.7 313,279.7 313,284.5 317.4,284.5 317.4,288.5 320.6,288.5 320.6,292.6" fill="none" stroke="#4b1d6b" stroke-width="1.3"/>
<polyline points="304.8,228.9 304.8,233.8 323.3,233.8 323.3,238.7 324.9,238.7 324.9,243.5 328.1,243.5 328.1,248.8 330.5,248.8 330.5,258.6 332.2,258.6 332.2,263.6 334.6,263.6 334.6,268.4 337,268.4 337,273.2 338.3,273.2 338.3,278 339.4,278 339.4,287.7 342.6,287.7 342.6,292.6" fill="none" stroke="#b8103c" stroke-width="1.3"/>
<path d="M320.6 186.7V199.8M320.6 192.3H360.2V212.6M356.3 207.2V219.2M356.3 212.6H360.2" fill="none" stroke="#1a1a1a" stroke-width="1.0" />
<path d="M336.6 207.9H345.2V219.2H340.9" fill="none" stroke="#1a1a1a" stroke-width="1.0" />
<circle cx="363.70" cy="200.55" r="0.92" fill="#222"/>
<circle cx="363.70" cy="203.00" r="0.92" fill="#222"/>
<circle cx="363.70" cy="205.45" r="0.92" fill="#222"/>
<circle cx="348.40" cy="210.95" r="0.92" fill="#222"/>
<circle cx="348.40" cy="213.40" r="0.92" fill="#222"/>
<circle cx="348.40" cy="215.85" r="0.92" fill="#222"/>
<line x1="415.8" y1="177.5" x2="415.8" y2="293.70000000000005" stroke="#1a1a1a" stroke-width="1.2"/>
<line x1="415.2" y1="293.1" x2="512.3" y2="293.1" stroke="#1a1a1a" stroke-width="1.2"/>
<line x1="412.8" y1="293.1" x2="415.8" y2="293.1" stroke="#1a1a1a" stroke-width="1.0"/>
<text transform="translate(409.90,295.35) scale(1.0,1)" font-size="6.40" text-anchor="end" fill="#1a1a1a" stroke="#1a1a1a" stroke-width="0.06" >0</text>
<line x1="412.8" y1="255.56500000000003" x2="415.8" y2="255.56500000000003" stroke="#1a1a1a" stroke-width="1.0"/>
<text transform="translate(409.90,257.82) scale(1.0,1)" font-size="6.40" text-anchor="end" fill="#1a1a1a" stroke="#1a1a1a" stroke-width="0.06" >50</text>
<line x1="412.8" y1="218.03000000000003" x2="415.8" y2="218.03000000000003" stroke="#1a1a1a" stroke-width="1.0"/>
<text transform="translate(409.90,220.28) scale(1.0,1)" font-size="6.40" text-anchor="end" fill="#1a1a1a" stroke="#1a1a1a" stroke-width="0.06" >100</text>
<line x1="412.8" y1="180.495" x2="415.8" y2="180.495" stroke="#1a1a1a" stroke-width="1.0"/>
<text transform="translate(409.90,182.75) scale(1.0,1)" font-size="6.40" text-anchor="end" fill="#1a1a1a" stroke="#1a1a1a" stroke-width="0.06" >150</text>
<rect x="426.8" y="218.03" width="16" height="75.07" fill="#532262"/>
<rect x="447.1" y="218.03" width="16" height="75.07" fill="#a5002f"/>
<rect x="472.4" y="255.57" width="16" height="37.53" fill="#532262"/>
<rect x="491.1" y="268.10" width="16" height="25.00" fill="#a5002f"/>
<line x1="445.2" y1="293.1" x2="445.2" y2="295.90000000000003" stroke="#1a1a1a" stroke-width="1.0"/>
<line x1="489.0" y1="293.1" x2="489.0" y2="295.90000000000003" stroke="#1a1a1a" stroke-width="1.0"/>
<text transform="translate(445.40,306.40) scale(0.92,1)" font-size="6.52" text-anchor="middle" fill="#1a1a1a" stroke="#1a1a1a" stroke-width="0.06" >MPN</text>
<text transform="translate(489.00,306.40) scale(0.92,1)" font-size="6.52" text-anchor="middle" fill="#1a1a1a" stroke="#1a1a1a" stroke-width="0.06" >T-ALL</text>
<rect x="419.6" y="181.5" width="7.3" height="5.6" fill="#532262"/>
<rect x="419.6" y="195.1" width="7.3" height="5.6" fill="#a5002f"/>
<text transform="translate(430.40,187.20) scale(0.92,1)" font-size="6.52" text-anchor="start" fill="#1a1a1a" stroke="#1a1a1a" stroke-width="0.06" >Kras (n=10)</text>
<text transform="translate(430.40,200.30) scale(0.92,1)" font-size="6.52" text-anchor="start" fill="#1a1a1a" stroke="#1a1a1a" stroke-width="0.06" >Kras;Sos1-/- (n=12)</text>
<path d="M480.4 250.4V247.8H500.3V250.4" fill="none" stroke="#1a1a1a" stroke-width="1.0" />
<text transform="translate(490.80,243.60) scale(0.92,1)" font-size="6.52" text-anchor="middle" fill="#1a1a1a" stroke="#1a1a1a" stroke-width="0.06" >ns</text>
<text transform="translate(390.61,235.30) rotate(-90) scale(0.92,1)" font-size="9.18" text-anchor="middle" fill="#1a1a1a" stroke="#1a1a1a" stroke-width="0.06">Incidence of cancer (%)</text>
<text transform="translate(115.70,351.50) scale(0.92,1)" font-size="6.52" text-anchor="middle" fill="#1a1a1a" stroke="#1a1a1a" stroke-width="0.06" >Tail</text>
<line x1="71.3" y1="356.9" x2="160.2" y2="356.9" stroke="#444" stroke-width="1.3"/>
<line x1="165.5" y1="357.1" x2="304.6" y2="357.1" stroke="#444" stroke-width="1.3"/>
<text transform="translate(235.00,351.50) scale(0.92,1)" font-size="6.96" text-anchor="middle" fill="#1a1a1a" stroke="#1a1a1a" stroke-width="0.06" >BM (moribund or age matched)</text>
<text transform="translate(243.00,372.20) scale(0.92,1)" font-size="6.52" text-anchor="middle" fill="#1a1a1a" stroke="#1a1a1a" stroke-width="0.06" >Kras;Sos1-/-</text>
<line x1="187.7" y1="377.7" x2="298.5" y2="377.7" stroke="#333" stroke-width="1.2"/>
<text transform="translate(184.60,388.20) scale(0.92,1)" font-size="6.52" text-anchor="middle" fill="#1a1a1a" stroke="#1a1a1a" stroke-width="0.06" >1</text>
<text transform="translate(204.60,388.20) scale(0.92,1)" font-size="6.52" text-anchor="middle" fill="#1a1a1a" stroke="#1a1a1a" stroke-width="0.06" >2</text>
<text transform="translate(220.00,388.20) scale(0.92,1)" font-size="6.52" text-anchor="middle" fill="#1a1a1a" stroke="#1a1a1a" stroke-width="0.06" >3</text>
<text transform="translate(233.80,388.20) scale(0.92,1)" font-size="6.52" text-anchor="middle" fill="#1a1a1a" stroke="#1a1a1a" stroke-width="0.06" >4</text>
<text transform="translate(250.20,388.20) scale(0.92,1)" font-size="6.52" text-anchor="middle" fill="#1a1a1a" stroke="#1a1a1a" stroke-width="0.06" >5</text>
<text transform="translate(266.20,388.20) scale(0.92,1)" font-size="6.52" text-anchor="middle" fill="#1a1a1a" stroke="#1a1a1a" stroke-width="0.06" >6</text>
<text transform="translate(282.20,388.20) scale(0.92,1)" font-size="6.52" text-anchor="middle" fill="#1a1a1a" stroke="#1a1a1a" stroke-width="0.06" >7</text>
<text transform="translate(289.80,388.20) scale(0.92,1)" font-size="6.52" text-anchor="middle" fill="#1a1a1a" stroke="#1a1a1a" stroke-width="0.06" >8</text>
<text transform="translate(69.3,388.8) rotate(-45) scale(0.92,1)" font-size="6.63" fill="#1a1a1a" stroke="#1a1a1a" stroke-width="0.06">C</text>
<text transform="translate(85.8,388.8) rotate(-45) scale(0.92,1)" font-size="6.63" fill="#1a1a1a" stroke="#1a1a1a" stroke-width="0.06">Kras</text>
<text transform="translate(103.9,388.8) rotate(-45) scale(0.92,1)" font-size="6.63" fill="#1a1a1a" stroke="#1a1a1a" stroke-width="0.06">Sos1-/-</text>
<text transform="translate(121.1,388.8) rotate(-45) scale(0.92,1)" font-size="6.63" fill="#1a1a1a" stroke="#1a1a1a" stroke-width="0.06">Kras;Sos1-/-</text>
<text transform="translate(138.9,388.8) rotate(-45) scale(0.92,1)" font-size="6.63" fill="#1a1a1a" stroke="#1a1a1a" stroke-width="0.06">C</text>
<text transform="translate(152.7,388.8) rotate(-45) scale(0.92,1)" font-size="6.63" fill="#1a1a1a" stroke="#1a1a1a" stroke-width="0.06">Kras</text>
<text transform="translate(170.8,388.8) rotate(-45) scale(0.92,1)" font-size="6.63" fill="#1a1a1a" stroke="#1a1a1a" stroke-width="0.06">Sos1-/-</text>
<defs><linearGradient id="gel" x1="0" y1="0" x2="0" y2="1"><stop offset="0" stop-color="#404040"/><stop offset="0.1" stop-color="#4b4b4b"/><stop offset="0.9" stop-color="#4a4a4a"/><stop offset="1" stop-color="#404040"/></linearGradient><filter id="bl" x="-50%" y="-100%" width="200%" height="300%"><feGaussianBlur stdDeviation="0.9"/></filter></defs>
<rect x="63.4" y="393.5" width="241.2" height="34.2" fill="#303030"/>
<rect x="64.4" y="394.5" width="239.2" height="32.2" fill="url(#gel)"/>
<filter id="sp14" filterUnits="userSpaceOnUse" x="64.4" y="394.5" width="239.2" height="32.2"><feTurbulence type="fractalNoise" baseFrequency="0.6" numOctaves="2" seed="71" result="t"/><feColorMatrix in="t" type="matrix" values="0 0 0 0 0 0 0 0 0 0 0 0 0 0 0 5 0 0 0 -2.750" result="a"/><feFlood flood-color="#5c5c5c" flood-opacity="0.6"/><feComposite in2="a" operator="in"/></filter>
<rect x="64.4" y="394.5" width="239.2" height="32.2" filter="url(#sp14)"/>
<filter id="sp15" filterUnits="userSpaceOnUse" x="64.4" y="394.5" width="239.2" height="32.2"><feTurbulence type="fractalNoise" baseFrequency="0.6" numOctaves="2" seed="73" result="t"/><feColorMatrix in="t" type="matrix" values="0 0 0 0 0 0 0 0 0 0 0 0 0 0 0 5 0 0 0 -2.750" result="a"/><feFlood flood-color="#3a3a3a" flood-opacity="0.5"/><feComposite in2="a" operator="in"/></filter>
<rect x="64.4" y="394.5" width="239.2" height="32.2" filter="url(#sp15)"/>
<g filter="url(#bl)">
<rect x="65.5" y="418.0" width="12" height="3.8" rx="1.4" fill="#727272"/>
<rect x="81.7" y="418.1" width="12" height="3.8" rx="1.4" fill="#727272"/>
<rect x="97.9" y="410.3" width="12" height="3.8" rx="1.4" fill="#767676"/>
<rect x="114.3" y="410.1" width="12" height="3.8" rx="1.4" fill="#767676"/>
<rect x="131.1" y="418.4" width="12" height="3.8" rx="1.4" fill="#707070"/>
<rect x="147.3" y="417.7" width="12" height="3.8" rx="1.4" fill="#747474"/>
<rect x="163.1" y="403.3" width="12" height="3.8" rx="1.4" fill="#787878"/>
<rect x="178.6" y="402.5" width="12" height="3.8" rx="1.4" fill="#7a7a7a"/>
<rect x="194.0" y="402.7" width="12" height="3.8" rx="1.4" fill="#7c7c7c"/>
<rect x="210.3" y="402.7" width="12" height="3.8" rx="1.4" fill="#7c7c7c"/>
<rect x="226.3" y="402.5" width="12" height="3.8" rx="1.4" fill="#808080"/>
<rect x="243.2" y="402.5" width="12" height="3.8" rx="1.4" fill="#858585"/>
<rect x="258.6" y="402.5" width="12" height="3.8" rx="1.4" fill="#8c8c8c"/>
<rect x="275.5" y="402.5" width="12" height="3.8" rx="1.4" fill="#909090"/>
<rect x="290.9" y="402.5" width="12" height="3.8" rx="1.4" fill="#8c8c8c"/>
</g>
<text transform="translate(56.50,403.30) scale(0.92,1)" font-size="6.52" text-anchor="end" fill="#1a1a1a" stroke="#1a1a1a" stroke-width="0.06" >ΔSos1</text>
<line x1="58.5" y1="401.2" x2="61.6" y2="401.2" stroke="#1a1a1a" stroke-width="1.0"/>
<text transform="translate(56.50,413.00) scale(0.92,1)" font-size="6.52" text-anchor="end" fill="#1a1a1a" stroke="#1a1a1a" stroke-width="0.06" >Sos1fl</text>
<line x1="58.5" y1="410.9" x2="61.6" y2="410.9" stroke="#1a1a1a" stroke-width="1.0"/>
<text transform="translate(56.50,422.70) scale(0.92,1)" font-size="6.52" text-anchor="end" fill="#1a1a1a" stroke="#1a1a1a" stroke-width="0.06" >wt</text>
<line x1="58.5" y1="420.6" x2="61.6" y2="420.6" stroke="#1a1a1a" stroke-width="1.0"/>
<defs><filter id="bl2" x="-50%" y="-50%" width="200%" height="200%"><feGaussianBlur stdDeviation="1.2"/></filter><filter id="bl3" x="-50%" y="-50%" width="200%" height="200%"><feGaussianBlur stdDeviation="0.85"/></filter><clipPath id="b1c"><rect x="380.6" y="380.7" width="101.1" height="22.1"/></clipPath><clipPath id="b2c"><rect x="380.6" y="407.2" width="101.1" height="20.8"/></clipPath></defs>
<g clip-path="url(#b1c)">
<rect x="380.6" y="380.7" width="101.1" height="22.1" fill="#d3d3cc"/>
<g filter="url(#bl2)">
<rect x="379" y="379" width="22.5" height="26" fill="#b2b2ae"/>
<rect x="379" y="379" width="22.5" height="6" fill="#9c9c9a"/>
<rect x="409.8" y="379" width="17.6" height="26" fill="#a6a6a3"/>
<rect x="409.8" y="379" width="17.6" height="8" fill="#8a8a88"/>
<rect x="401.5" y="379" width="8.3" height="26" fill="#cacac4"/>
</g>
<defs><radialGradient id="kb" cx="0.5" cy="0.38" r="0.6"><stop offset="0" stop-color="#050505"/><stop offset="0.65" stop-color="#141414"/><stop offset="1" stop-color="#3c3c3c"/></radialGradient></defs>
<g filter="url(#bl3)">
<path d="M384.3 389.2H401.8V392.2H384.3Z" fill="#121212"/>
<path d="M410.4 388C414 387.2 423.5 387.2 427.2 388C427.4 393 425 398.4 418.8 399.2C412.8 398.4 410.4 393 410.4 388Z" fill="url(#kb)"/>
</g></g>
<g clip-path="url(#b2c)">
<rect x="380.6" y="407.2" width="101.1" height="20.8" fill="#d1d1ca"/>
<g filter="url(#bl2)">
<rect x="379" y="405" width="50" height="25" fill="#c6c6c0"/>
</g>
<g filter="url(#bl3)">
<path d="M384.8 416C391 415.5 401 415.3 407 415.5C405.5 418.2 402.5 419.8 396 420.2C391 420.5 387.5 421 386 420.3C385 419.2 384.6 417.6 384.8 416Z" fill="#363636"/>
<path d="M412.6 415.8C416 417.2 422 417.2 426.5 415.6L429.5 415.6L429.3 416.6L426.8 417C425.5 419.5 422 421 419 421C415.5 420.6 413 418.5 412.6 415.8Z" fill="#333333"/>
<path d="M432.5 416C440 415.5 447 415.5 454 416C453.8 419 449 419.8 443 419.8C437 419.8 432.7 419.3 432.5 416Z" fill="#474747"/>
<path d="M458 416C466 415.5 473 415.5 479.8 416C479.6 419 475 419.8 469 419.8C463 419.8 458.2 419.3 458 416Z" fill="#454545"/>
</g></g>
<text transform="translate(376.50,395.80) scale(0.92,1)" font-size="6.52" text-anchor="end" fill="#1a1a1a" stroke="#1a1a1a" stroke-width="0.06" >Sos1</text>
<text transform="translate(376.50,419.70) scale(0.92,1)" font-size="6.52" text-anchor="end" fill="#1a1a1a" stroke="#1a1a1a" stroke-width="0.06" >Actin</text>
<text transform="translate(393.1,376.0) rotate(-45) scale(0.92,1)" font-size="6.63" fill="#1a1a1a" stroke="#1a1a1a" stroke-width="0.06">C</text>
<text transform="translate(417.3,376.0) rotate(-45) scale(0.92,1)" font-size="6.63" fill="#1a1a1a" stroke="#1a1a1a" stroke-width="0.06">Kras</text>
<text transform="translate(443.9,376.0) rotate(-45) scale(0.92,1)" font-size="6.63" fill="#1a1a1a" stroke="#1a1a1a" stroke-width="0.06">Sos1-/-</text>
<text transform="translate(467.0,376.0) rotate(-45) scale(0.92,1)" font-size="6.63" fill="#1a1a1a" stroke="#1a1a1a" stroke-width="0.06">Kras;Sos1-/-</text>
<rect x="0.6" y="0.6" width="518.2" height="434.2" fill="none" stroke="#111" stroke-width="1.3"/>
<line x1="519.1" y1="0" x2="519.1" y2="436" stroke="#111" stroke-width="1.9"/>
<line x1="0" y1="435" x2="520" y2="435" stroke="#111" stroke-width="2.2"/>
</svg></body></html>
